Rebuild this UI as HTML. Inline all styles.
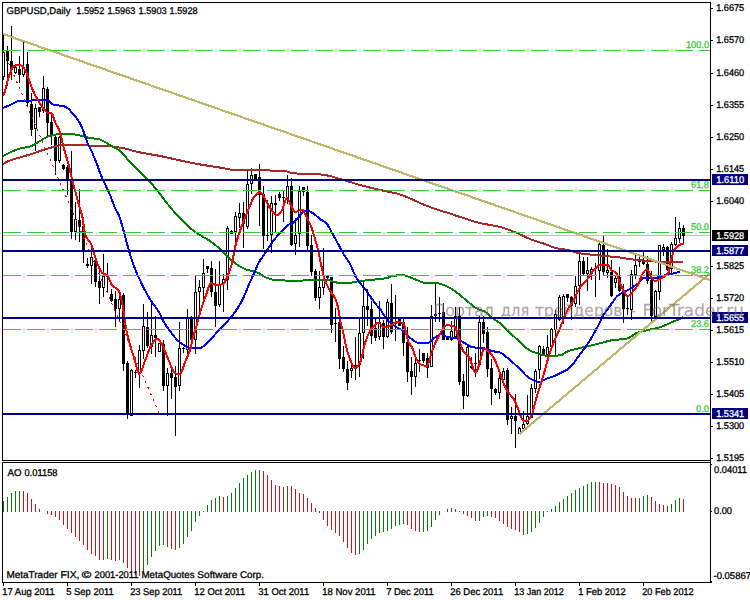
<!DOCTYPE html>
<html lang="en">
<head>
<meta charset="utf-8">
<title>GBPUSD, Daily</title>
<style>
html, body { margin: 0; padding: 0; background: #fff; }
body { width: 750px; height: 600px; overflow: hidden; font-family: "Liberation Sans", "DejaVu Sans", sans-serif; }
svg { display: block; font-family: "Liberation Sans", "DejaVu Sans", sans-serif; }
body { position: relative; }
svg.wm { position: absolute; left: 0; top: 0; opacity: 0.58; will-change: opacity; pointer-events: none; }
svg text { white-space: pre; text-rendering: geometricPrecision; }
</style>
</head>
<body>
<svg width="750" height="600" viewBox="0 0 750 600">
<rect x="0" y="0" width="750" height="600" fill="#fff"/>
<g shape-rendering="crispEdges">
<rect x="3" y="235" width="707" height="1" fill="#c0c0c0"/>
</g>
<g id="candles" shape-rendering="crispEdges">
<rect x="3" y="35" width="1" height="45" fill="#000"/>
<rect x="2" y="52" width="3" height="25" fill="#000"/>
<rect x="3" y="53" width="1" height="23" fill="#fff"/>
<rect x="7" y="46" width="1" height="40" fill="#000"/>
<rect x="6" y="51" width="3" height="10" fill="#000"/>
<rect x="11" y="26" width="1" height="54" fill="#000"/>
<rect x="10" y="61" width="3" height="8" fill="#000"/>
<rect x="15" y="66" width="1" height="8" fill="#000"/>
<rect x="14" y="67" width="3" height="6" fill="#000"/>
<rect x="15" y="68" width="1" height="4" fill="#fff"/>
<rect x="19" y="56" width="1" height="27" fill="#000"/>
<rect x="18" y="69" width="3" height="6" fill="#000"/>
<rect x="23" y="42" width="1" height="35" fill="#000"/>
<rect x="22" y="68" width="3" height="7" fill="#000"/>
<rect x="23" y="69" width="1" height="5" fill="#fff"/>
<rect x="27" y="52" width="1" height="54" fill="#000"/>
<rect x="26" y="64" width="3" height="39" fill="#000"/>
<rect x="31" y="93" width="1" height="43" fill="#000"/>
<rect x="30" y="104" width="3" height="26" fill="#000"/>
<rect x="35" y="104" width="1" height="47" fill="#000"/>
<rect x="34" y="108" width="3" height="21" fill="#000"/>
<rect x="35" y="109" width="1" height="19" fill="#fff"/>
<rect x="39" y="107" width="1" height="10" fill="#000"/>
<rect x="38" y="107" width="3" height="5" fill="#000"/>
<rect x="43" y="76" width="1" height="37" fill="#000"/>
<rect x="42" y="88" width="3" height="23" fill="#000"/>
<rect x="43" y="89" width="1" height="21" fill="#fff"/>
<rect x="47" y="87" width="1" height="49" fill="#000"/>
<rect x="46" y="89" width="3" height="34" fill="#000"/>
<rect x="51" y="115" width="1" height="30" fill="#000"/>
<rect x="50" y="122" width="3" height="14" fill="#000"/>
<rect x="55" y="136" width="1" height="39" fill="#000"/>
<rect x="54" y="137" width="3" height="24" fill="#000"/>
<rect x="59" y="136" width="1" height="27" fill="#000"/>
<rect x="58" y="137" width="3" height="24" fill="#000"/>
<rect x="59" y="138" width="1" height="22" fill="#fff"/>
<rect x="63" y="164" width="1" height="6" fill="#000"/>
<rect x="62" y="165" width="3" height="4" fill="#000"/>
<rect x="67" y="165" width="1" height="30" fill="#000"/>
<rect x="66" y="167" width="3" height="13" fill="#000"/>
<rect x="71" y="151" width="1" height="88" fill="#000"/>
<rect x="70" y="180" width="3" height="52" fill="#000"/>
<rect x="75" y="202" width="1" height="38" fill="#000"/>
<rect x="74" y="219" width="3" height="13" fill="#000"/>
<rect x="75" y="220" width="1" height="11" fill="#fff"/>
<rect x="79" y="189" width="1" height="53" fill="#000"/>
<rect x="78" y="220" width="3" height="7" fill="#000"/>
<rect x="83" y="217" width="1" height="46" fill="#000"/>
<rect x="82" y="226" width="3" height="24" fill="#000"/>
<rect x="87" y="258" width="1" height="10" fill="#000"/>
<rect x="86" y="264" width="3" height="2" fill="#000"/>
<rect x="91" y="248" width="1" height="36" fill="#000"/>
<rect x="90" y="257" width="3" height="9" fill="#000"/>
<rect x="91" y="258" width="1" height="7" fill="#fff"/>
<rect x="95" y="258" width="1" height="29" fill="#000"/>
<rect x="94" y="260" width="3" height="22" fill="#000"/>
<rect x="99" y="271" width="1" height="33" fill="#000"/>
<rect x="98" y="281" width="3" height="7" fill="#000"/>
<rect x="103" y="254" width="1" height="43" fill="#000"/>
<rect x="102" y="276" width="3" height="12" fill="#000"/>
<rect x="103" y="277" width="1" height="10" fill="#fff"/>
<rect x="107" y="263" width="1" height="29" fill="#000"/>
<rect x="106" y="276" width="3" height="1" fill="#000"/>
<rect x="111" y="289" width="1" height="13" fill="#000"/>
<rect x="110" y="294" width="3" height="7" fill="#000"/>
<rect x="115" y="291" width="1" height="36" fill="#000"/>
<rect x="114" y="299" width="3" height="10" fill="#000"/>
<rect x="119" y="294" width="1" height="28" fill="#000"/>
<rect x="118" y="299" width="3" height="10" fill="#000"/>
<rect x="119" y="300" width="1" height="8" fill="#fff"/>
<rect x="123" y="293" width="1" height="78" fill="#000"/>
<rect x="122" y="295" width="3" height="69" fill="#000"/>
<rect x="127" y="361" width="1" height="58" fill="#000"/>
<rect x="126" y="363" width="3" height="52" fill="#000"/>
<rect x="131" y="369" width="1" height="47" fill="#000"/>
<rect x="130" y="370" width="3" height="46" fill="#000"/>
<rect x="131" y="371" width="1" height="44" fill="#fff"/>
<rect x="135" y="370" width="1" height="8" fill="#000"/>
<rect x="134" y="372" width="3" height="1" fill="#000"/>
<rect x="139" y="345" width="1" height="43" fill="#000"/>
<rect x="138" y="350" width="3" height="23" fill="#000"/>
<rect x="139" y="351" width="1" height="21" fill="#fff"/>
<rect x="143" y="304" width="1" height="55" fill="#000"/>
<rect x="142" y="326" width="3" height="25" fill="#000"/>
<rect x="143" y="327" width="1" height="23" fill="#fff"/>
<rect x="147" y="312" width="1" height="36" fill="#000"/>
<rect x="146" y="327" width="3" height="19" fill="#000"/>
<rect x="151" y="303" width="1" height="51" fill="#000"/>
<rect x="150" y="335" width="3" height="12" fill="#000"/>
<rect x="151" y="336" width="1" height="10" fill="#fff"/>
<rect x="155" y="316" width="1" height="41" fill="#000"/>
<rect x="154" y="335" width="3" height="3" fill="#000"/>
<rect x="159" y="343" width="1" height="9" fill="#000"/>
<rect x="158" y="343" width="3" height="9" fill="#000"/>
<rect x="159" y="344" width="1" height="7" fill="#fff"/>
<rect x="163" y="340" width="1" height="51" fill="#000"/>
<rect x="162" y="344" width="3" height="42" fill="#000"/>
<rect x="167" y="368" width="1" height="48" fill="#000"/>
<rect x="166" y="373" width="3" height="13" fill="#000"/>
<rect x="167" y="374" width="1" height="11" fill="#fff"/>
<rect x="171" y="369" width="1" height="30" fill="#000"/>
<rect x="170" y="373" width="3" height="5" fill="#000"/>
<rect x="175" y="366" width="1" height="70" fill="#000"/>
<rect x="174" y="377" width="3" height="10" fill="#000"/>
<rect x="179" y="322" width="1" height="69" fill="#000"/>
<rect x="178" y="348" width="3" height="38" fill="#000"/>
<rect x="179" y="349" width="1" height="36" fill="#fff"/>
<rect x="183" y="347" width="1" height="6" fill="#000"/>
<rect x="182" y="348" width="3" height="1" fill="#000"/>
<rect x="187" y="309" width="1" height="45" fill="#000"/>
<rect x="186" y="318" width="3" height="32" fill="#000"/>
<rect x="187" y="319" width="1" height="30" fill="#fff"/>
<rect x="191" y="316" width="1" height="32" fill="#000"/>
<rect x="190" y="318" width="3" height="22" fill="#000"/>
<rect x="195" y="276" width="1" height="78" fill="#000"/>
<rect x="194" y="292" width="3" height="48" fill="#000"/>
<rect x="195" y="293" width="1" height="46" fill="#fff"/>
<rect x="199" y="280" width="1" height="32" fill="#000"/>
<rect x="198" y="287" width="3" height="5" fill="#000"/>
<rect x="199" y="288" width="1" height="3" fill="#fff"/>
<rect x="203" y="259" width="1" height="40" fill="#000"/>
<rect x="202" y="273" width="3" height="15" fill="#000"/>
<rect x="203" y="274" width="1" height="13" fill="#fff"/>
<rect x="207" y="266" width="1" height="7" fill="#000"/>
<rect x="206" y="266" width="3" height="3" fill="#000"/>
<rect x="211" y="261" width="1" height="36" fill="#000"/>
<rect x="210" y="268" width="3" height="24" fill="#000"/>
<rect x="215" y="269" width="1" height="58" fill="#000"/>
<rect x="214" y="292" width="3" height="14" fill="#000"/>
<rect x="219" y="261" width="1" height="46" fill="#000"/>
<rect x="218" y="285" width="3" height="20" fill="#000"/>
<rect x="219" y="286" width="1" height="18" fill="#fff"/>
<rect x="223" y="274" width="1" height="38" fill="#000"/>
<rect x="222" y="279" width="3" height="5" fill="#000"/>
<rect x="223" y="280" width="1" height="3" fill="#fff"/>
<rect x="227" y="226" width="1" height="64" fill="#000"/>
<rect x="226" y="228" width="3" height="52" fill="#000"/>
<rect x="227" y="229" width="1" height="50" fill="#fff"/>
<rect x="231" y="230" width="1" height="4" fill="#000"/>
<rect x="230" y="231" width="3" height="3" fill="#000"/>
<rect x="235" y="212" width="1" height="32" fill="#000"/>
<rect x="234" y="216" width="3" height="16" fill="#000"/>
<rect x="235" y="217" width="1" height="14" fill="#fff"/>
<rect x="239" y="203" width="1" height="25" fill="#000"/>
<rect x="238" y="213" width="3" height="5" fill="#000"/>
<rect x="239" y="214" width="1" height="3" fill="#fff"/>
<rect x="243" y="202" width="1" height="46" fill="#000"/>
<rect x="242" y="213" width="3" height="11" fill="#000"/>
<rect x="247" y="171" width="1" height="58" fill="#000"/>
<rect x="246" y="184" width="3" height="43" fill="#000"/>
<rect x="247" y="185" width="1" height="41" fill="#fff"/>
<rect x="251" y="168" width="1" height="26" fill="#000"/>
<rect x="250" y="175" width="3" height="9" fill="#000"/>
<rect x="251" y="176" width="1" height="7" fill="#fff"/>
<rect x="255" y="174" width="1" height="6" fill="#000"/>
<rect x="254" y="174" width="3" height="6" fill="#000"/>
<rect x="259" y="164" width="1" height="62" fill="#000"/>
<rect x="258" y="177" width="3" height="18" fill="#000"/>
<rect x="263" y="186" width="1" height="63" fill="#000"/>
<rect x="262" y="194" width="3" height="42" fill="#000"/>
<rect x="267" y="200" width="1" height="41" fill="#000"/>
<rect x="266" y="235" width="3" height="1" fill="#000"/>
<rect x="271" y="196" width="1" height="57" fill="#000"/>
<rect x="270" y="203" width="3" height="32" fill="#000"/>
<rect x="271" y="204" width="1" height="30" fill="#fff"/>
<rect x="275" y="195" width="1" height="38" fill="#000"/>
<rect x="274" y="203" width="3" height="2" fill="#000"/>
<rect x="279" y="192" width="1" height="9" fill="#000"/>
<rect x="278" y="194" width="3" height="4" fill="#000"/>
<rect x="283" y="191" width="1" height="31" fill="#000"/>
<rect x="282" y="197" width="3" height="1" fill="#000"/>
<rect x="287" y="175" width="1" height="29" fill="#000"/>
<rect x="286" y="186" width="3" height="12" fill="#000"/>
<rect x="287" y="187" width="1" height="10" fill="#fff"/>
<rect x="291" y="178" width="1" height="68" fill="#000"/>
<rect x="290" y="186" width="3" height="59" fill="#000"/>
<rect x="295" y="218" width="1" height="37" fill="#000"/>
<rect x="294" y="235" width="3" height="9" fill="#000"/>
<rect x="295" y="236" width="1" height="7" fill="#fff"/>
<rect x="299" y="186" width="1" height="61" fill="#000"/>
<rect x="298" y="191" width="3" height="43" fill="#000"/>
<rect x="299" y="192" width="1" height="41" fill="#fff"/>
<rect x="303" y="187" width="1" height="9" fill="#000"/>
<rect x="302" y="187" width="3" height="5" fill="#000"/>
<rect x="307" y="186" width="1" height="64" fill="#000"/>
<rect x="306" y="192" width="3" height="54" fill="#000"/>
<rect x="311" y="235" width="1" height="41" fill="#000"/>
<rect x="310" y="245" width="3" height="27" fill="#000"/>
<rect x="315" y="269" width="1" height="32" fill="#000"/>
<rect x="314" y="271" width="3" height="27" fill="#000"/>
<rect x="319" y="271" width="1" height="38" fill="#000"/>
<rect x="318" y="287" width="3" height="11" fill="#000"/>
<rect x="319" y="288" width="1" height="9" fill="#fff"/>
<rect x="323" y="248" width="1" height="47" fill="#000"/>
<rect x="322" y="279" width="3" height="9" fill="#000"/>
<rect x="323" y="280" width="1" height="7" fill="#fff"/>
<rect x="327" y="276" width="1" height="5" fill="#000"/>
<rect x="326" y="276" width="3" height="2" fill="#000"/>
<rect x="331" y="277" width="1" height="56" fill="#000"/>
<rect x="330" y="277" width="3" height="48" fill="#000"/>
<rect x="335" y="308" width="1" height="34" fill="#000"/>
<rect x="334" y="323" width="3" height="1" fill="#000"/>
<rect x="339" y="318" width="1" height="51" fill="#000"/>
<rect x="338" y="322" width="3" height="37" fill="#000"/>
<rect x="343" y="346" width="1" height="26" fill="#000"/>
<rect x="342" y="357" width="3" height="12" fill="#000"/>
<rect x="347" y="361" width="1" height="29" fill="#000"/>
<rect x="346" y="369" width="3" height="14" fill="#000"/>
<rect x="351" y="365" width="1" height="13" fill="#000"/>
<rect x="350" y="368" width="3" height="3" fill="#000"/>
<rect x="351" y="369" width="1" height="1" fill="#fff"/>
<rect x="355" y="337" width="1" height="43" fill="#000"/>
<rect x="354" y="365" width="3" height="1" fill="#000"/>
<rect x="359" y="319" width="1" height="58" fill="#000"/>
<rect x="358" y="333" width="3" height="32" fill="#000"/>
<rect x="359" y="334" width="1" height="30" fill="#fff"/>
<rect x="363" y="282" width="1" height="77" fill="#000"/>
<rect x="362" y="306" width="3" height="27" fill="#000"/>
<rect x="363" y="307" width="1" height="25" fill="#fff"/>
<rect x="367" y="289" width="1" height="37" fill="#000"/>
<rect x="366" y="306" width="3" height="4" fill="#000"/>
<rect x="371" y="301" width="1" height="43" fill="#000"/>
<rect x="370" y="309" width="3" height="27" fill="#000"/>
<rect x="375" y="318" width="1" height="23" fill="#000"/>
<rect x="374" y="328" width="3" height="10" fill="#000"/>
<rect x="379" y="301" width="1" height="39" fill="#000"/>
<rect x="378" y="322" width="3" height="15" fill="#000"/>
<rect x="379" y="323" width="1" height="13" fill="#fff"/>
<rect x="383" y="320" width="1" height="29" fill="#000"/>
<rect x="382" y="323" width="3" height="14" fill="#000"/>
<rect x="387" y="299" width="1" height="39" fill="#000"/>
<rect x="386" y="302" width="3" height="35" fill="#000"/>
<rect x="387" y="303" width="1" height="33" fill="#fff"/>
<rect x="391" y="284" width="1" height="50" fill="#000"/>
<rect x="390" y="303" width="3" height="29" fill="#000"/>
<rect x="395" y="295" width="1" height="46" fill="#000"/>
<rect x="394" y="323" width="3" height="1" fill="#000"/>
<rect x="399" y="319" width="1" height="7" fill="#000"/>
<rect x="398" y="319" width="3" height="7" fill="#000"/>
<rect x="403" y="319" width="1" height="37" fill="#000"/>
<rect x="402" y="322" width="3" height="21" fill="#000"/>
<rect x="407" y="327" width="1" height="55" fill="#000"/>
<rect x="406" y="342" width="3" height="30" fill="#000"/>
<rect x="411" y="357" width="1" height="38" fill="#000"/>
<rect x="410" y="371" width="3" height="6" fill="#000"/>
<rect x="415" y="358" width="1" height="29" fill="#000"/>
<rect x="414" y="363" width="3" height="14" fill="#000"/>
<rect x="415" y="364" width="1" height="12" fill="#fff"/>
<rect x="419" y="349" width="1" height="23" fill="#000"/>
<rect x="418" y="360" width="3" height="1" fill="#000"/>
<rect x="423" y="353" width="1" height="10" fill="#000"/>
<rect x="422" y="353" width="3" height="8" fill="#000"/>
<rect x="427" y="353" width="1" height="25" fill="#000"/>
<rect x="426" y="358" width="3" height="10" fill="#000"/>
<rect x="431" y="305" width="1" height="62" fill="#000"/>
<rect x="430" y="316" width="3" height="51" fill="#000"/>
<rect x="431" y="317" width="1" height="49" fill="#fff"/>
<rect x="435" y="284" width="1" height="38" fill="#000"/>
<rect x="434" y="314" width="3" height="2" fill="#000"/>
<rect x="439" y="297" width="1" height="25" fill="#000"/>
<rect x="438" y="313" width="3" height="1" fill="#000"/>
<rect x="443" y="303" width="1" height="37" fill="#000"/>
<rect x="442" y="312" width="3" height="28" fill="#000"/>
<rect x="447" y="337" width="1" height="3" fill="#000"/>
<rect x="446" y="337" width="3" height="3" fill="#000"/>
<rect x="451" y="321" width="1" height="20" fill="#000"/>
<rect x="450" y="331" width="3" height="9" fill="#000"/>
<rect x="451" y="332" width="1" height="7" fill="#fff"/>
<rect x="455" y="307" width="1" height="30" fill="#000"/>
<rect x="454" y="316" width="3" height="21" fill="#000"/>
<rect x="455" y="317" width="1" height="19" fill="#fff"/>
<rect x="459" y="307" width="1" height="78" fill="#000"/>
<rect x="458" y="316" width="3" height="66" fill="#000"/>
<rect x="463" y="374" width="1" height="35" fill="#000"/>
<rect x="462" y="381" width="3" height="15" fill="#000"/>
<rect x="467" y="346" width="1" height="51" fill="#000"/>
<rect x="466" y="347" width="3" height="49" fill="#000"/>
<rect x="467" y="348" width="1" height="47" fill="#fff"/>
<rect x="471" y="357" width="1" height="12" fill="#000"/>
<rect x="470" y="366" width="3" height="2" fill="#000"/>
<rect x="475" y="353" width="1" height="24" fill="#000"/>
<rect x="474" y="363" width="3" height="1" fill="#000"/>
<rect x="479" y="316" width="1" height="50" fill="#000"/>
<rect x="478" y="322" width="3" height="43" fill="#000"/>
<rect x="479" y="323" width="1" height="41" fill="#fff"/>
<rect x="483" y="316" width="1" height="27" fill="#000"/>
<rect x="482" y="322" width="3" height="12" fill="#000"/>
<rect x="487" y="327" width="1" height="50" fill="#000"/>
<rect x="486" y="332" width="3" height="37" fill="#000"/>
<rect x="491" y="359" width="1" height="46" fill="#000"/>
<rect x="490" y="368" width="3" height="21" fill="#000"/>
<rect x="495" y="388" width="1" height="7" fill="#000"/>
<rect x="494" y="389" width="3" height="4" fill="#000"/>
<rect x="499" y="375" width="1" height="24" fill="#000"/>
<rect x="498" y="378" width="3" height="15" fill="#000"/>
<rect x="499" y="379" width="1" height="13" fill="#fff"/>
<rect x="503" y="368" width="1" height="16" fill="#000"/>
<rect x="502" y="371" width="3" height="9" fill="#000"/>
<rect x="503" y="372" width="1" height="7" fill="#fff"/>
<rect x="507" y="368" width="1" height="57" fill="#000"/>
<rect x="506" y="370" width="3" height="50" fill="#000"/>
<rect x="511" y="407" width="1" height="27" fill="#000"/>
<rect x="510" y="416" width="3" height="3" fill="#000"/>
<rect x="511" y="417" width="1" height="1" fill="#fff"/>
<rect x="515" y="394" width="1" height="54" fill="#000"/>
<rect x="514" y="416" width="3" height="5" fill="#000"/>
<rect x="519" y="427" width="1" height="7" fill="#000"/>
<rect x="518" y="428" width="3" height="6" fill="#000"/>
<rect x="519" y="429" width="1" height="4" fill="#fff"/>
<rect x="523" y="411" width="1" height="19" fill="#000"/>
<rect x="522" y="424" width="3" height="5" fill="#000"/>
<rect x="523" y="425" width="1" height="3" fill="#fff"/>
<rect x="527" y="395" width="1" height="30" fill="#000"/>
<rect x="526" y="416" width="3" height="8" fill="#000"/>
<rect x="527" y="417" width="1" height="6" fill="#fff"/>
<rect x="531" y="384" width="1" height="34" fill="#000"/>
<rect x="530" y="388" width="3" height="30" fill="#000"/>
<rect x="531" y="389" width="1" height="28" fill="#fff"/>
<rect x="535" y="369" width="1" height="24" fill="#000"/>
<rect x="534" y="371" width="3" height="18" fill="#000"/>
<rect x="535" y="372" width="1" height="16" fill="#fff"/>
<rect x="539" y="345" width="1" height="34" fill="#000"/>
<rect x="538" y="346" width="3" height="24" fill="#000"/>
<rect x="539" y="347" width="1" height="22" fill="#fff"/>
<rect x="543" y="346" width="1" height="8" fill="#000"/>
<rect x="542" y="349" width="3" height="5" fill="#000"/>
<rect x="547" y="335" width="1" height="20" fill="#000"/>
<rect x="546" y="347" width="3" height="8" fill="#000"/>
<rect x="547" y="348" width="1" height="6" fill="#fff"/>
<rect x="551" y="328" width="1" height="19" fill="#000"/>
<rect x="550" y="329" width="3" height="18" fill="#000"/>
<rect x="551" y="330" width="1" height="16" fill="#fff"/>
<rect x="555" y="310" width="1" height="45" fill="#000"/>
<rect x="554" y="314" width="3" height="16" fill="#000"/>
<rect x="555" y="315" width="1" height="14" fill="#fff"/>
<rect x="559" y="295" width="1" height="26" fill="#000"/>
<rect x="558" y="297" width="3" height="23" fill="#000"/>
<rect x="559" y="298" width="1" height="21" fill="#fff"/>
<rect x="563" y="294" width="1" height="30" fill="#000"/>
<rect x="562" y="296" width="3" height="22" fill="#000"/>
<rect x="563" y="297" width="1" height="20" fill="#fff"/>
<rect x="567" y="294" width="1" height="8" fill="#000"/>
<rect x="566" y="294" width="3" height="4" fill="#000"/>
<rect x="571" y="296" width="1" height="24" fill="#000"/>
<rect x="570" y="297" width="3" height="9" fill="#000"/>
<rect x="575" y="276" width="1" height="31" fill="#000"/>
<rect x="574" y="286" width="3" height="18" fill="#000"/>
<rect x="575" y="287" width="1" height="16" fill="#fff"/>
<rect x="579" y="253" width="1" height="52" fill="#000"/>
<rect x="578" y="261" width="3" height="25" fill="#000"/>
<rect x="579" y="262" width="1" height="23" fill="#fff"/>
<rect x="583" y="257" width="1" height="19" fill="#000"/>
<rect x="582" y="261" width="3" height="13" fill="#000"/>
<rect x="587" y="257" width="1" height="34" fill="#000"/>
<rect x="586" y="270" width="3" height="4" fill="#000"/>
<rect x="587" y="271" width="1" height="2" fill="#fff"/>
<rect x="591" y="267" width="1" height="13" fill="#000"/>
<rect x="590" y="269" width="3" height="4" fill="#000"/>
<rect x="591" y="270" width="1" height="2" fill="#fff"/>
<rect x="595" y="263" width="1" height="34" fill="#000"/>
<rect x="594" y="268" width="3" height="1" fill="#000"/>
<rect x="599" y="243" width="1" height="37" fill="#000"/>
<rect x="598" y="244" width="3" height="27" fill="#000"/>
<rect x="599" y="245" width="1" height="25" fill="#fff"/>
<rect x="603" y="236" width="1" height="40" fill="#000"/>
<rect x="602" y="245" width="3" height="27" fill="#000"/>
<rect x="607" y="249" width="1" height="29" fill="#000"/>
<rect x="606" y="270" width="3" height="3" fill="#000"/>
<rect x="607" y="271" width="1" height="1" fill="#fff"/>
<rect x="611" y="260" width="1" height="37" fill="#000"/>
<rect x="610" y="272" width="3" height="24" fill="#000"/>
<rect x="615" y="276" width="1" height="12" fill="#000"/>
<rect x="614" y="278" width="3" height="5" fill="#000"/>
<rect x="615" y="279" width="1" height="3" fill="#fff"/>
<rect x="619" y="267" width="1" height="25" fill="#000"/>
<rect x="618" y="277" width="3" height="14" fill="#000"/>
<rect x="623" y="284" width="1" height="39" fill="#000"/>
<rect x="622" y="291" width="3" height="18" fill="#000"/>
<rect x="627" y="297" width="1" height="18" fill="#000"/>
<rect x="626" y="308" width="3" height="1" fill="#000"/>
<rect x="631" y="270" width="1" height="50" fill="#000"/>
<rect x="630" y="274" width="3" height="36" fill="#000"/>
<rect x="631" y="275" width="1" height="34" fill="#fff"/>
<rect x="635" y="255" width="1" height="24" fill="#000"/>
<rect x="634" y="265" width="3" height="10" fill="#000"/>
<rect x="635" y="266" width="1" height="8" fill="#fff"/>
<rect x="639" y="254" width="1" height="13" fill="#000"/>
<rect x="638" y="259" width="3" height="3" fill="#000"/>
<rect x="643" y="252" width="1" height="13" fill="#000"/>
<rect x="642" y="260" width="3" height="4" fill="#000"/>
<rect x="647" y="256" width="1" height="28" fill="#000"/>
<rect x="646" y="264" width="3" height="17" fill="#000"/>
<rect x="651" y="271" width="1" height="51" fill="#000"/>
<rect x="650" y="280" width="3" height="36" fill="#000"/>
<rect x="655" y="290" width="1" height="31" fill="#000"/>
<rect x="654" y="291" width="3" height="26" fill="#000"/>
<rect x="655" y="292" width="1" height="24" fill="#fff"/>
<rect x="659" y="245" width="1" height="55" fill="#000"/>
<rect x="658" y="245" width="3" height="47" fill="#000"/>
<rect x="659" y="246" width="1" height="45" fill="#fff"/>
<rect x="663" y="244" width="1" height="12" fill="#000"/>
<rect x="662" y="247" width="3" height="3" fill="#000"/>
<rect x="663" y="248" width="1" height="1" fill="#fff"/>
<rect x="667" y="246" width="1" height="25" fill="#000"/>
<rect x="666" y="247" width="3" height="23" fill="#000"/>
<rect x="671" y="242" width="1" height="31" fill="#000"/>
<rect x="670" y="244" width="3" height="25" fill="#000"/>
<rect x="671" y="245" width="1" height="23" fill="#fff"/>
<rect x="675" y="217" width="1" height="29" fill="#000"/>
<rect x="674" y="238" width="3" height="7" fill="#000"/>
<rect x="675" y="239" width="1" height="5" fill="#fff"/>
<rect x="679" y="222" width="1" height="21" fill="#000"/>
<rect x="678" y="228" width="3" height="11" fill="#000"/>
<rect x="679" y="229" width="1" height="9" fill="#fff"/>
<rect x="683" y="225" width="1" height="18" fill="#000"/>
<rect x="682" y="228" width="3" height="8" fill="#000"/>
</g>
<g id="mas" shape-rendering="crispEdges">
<polyline points="3.0,164.0 4.0,163.4 5.0,162.9 6.0,162.3 7.0,161.8 8.0,161.3 9.0,160.9 10.0,160.5 11.0,160.1 12.0,159.8 13.0,159.5 14.0,159.2 15.0,158.9 16.0,158.6 17.0,158.3 18.0,158.1 19.0,157.8 20.0,157.5 21.0,157.2 22.0,156.9 23.0,156.6 24.0,156.3 25.0,156.0 26.0,155.7 27.0,155.4 28.0,155.1 29.0,154.8 30.0,154.5 31.0,154.2 32.0,153.8 33.0,153.5 34.0,153.1 35.0,152.8 36.0,152.4 37.0,152.0 38.0,151.7 39.0,151.3 40.0,151.0 41.0,150.7 42.0,150.4 43.0,150.0 44.0,149.7 45.0,149.4 46.0,149.1 47.0,148.8 48.0,148.5 49.0,148.3 50.0,148.0 51.0,147.7 52.0,147.4 53.0,147.1 54.0,146.8 55.0,146.5 56.0,146.2 57.0,146.0 58.0,145.7 59.0,145.5 60.0,145.4 61.0,145.3 62.0,145.2 63.0,145.2 64.0,145.1 65.0,145.1 66.0,145.1 67.0,145.1 68.0,145.1 69.0,145.0 70.0,145.0 71.0,145.0 72.0,145.0 73.0,145.0 74.0,145.0 75.0,145.0 76.0,145.0 77.0,145.0 78.0,145.0 79.0,145.1 80.0,145.1 81.0,145.2 82.0,145.2 83.0,145.2 84.0,145.3 85.0,145.3 86.0,145.4 87.0,145.4 88.0,145.5 89.0,145.5 90.0,145.5 91.0,145.5 92.0,145.5 93.0,145.5 94.0,145.5 95.0,145.5 96.0,145.6 97.0,145.6 98.0,145.6 99.0,145.6 100.0,145.6 101.0,145.6 102.0,145.7 103.0,145.7 104.0,145.8 105.0,145.8 106.0,145.9 107.0,146.0 108.0,146.1 109.0,146.2 110.0,146.3 111.0,146.4 112.0,146.5 113.0,146.6 114.0,146.8 115.0,146.9 116.0,147.0 117.0,147.2 118.0,147.3 119.0,147.5 120.0,147.6 121.0,147.8 122.0,147.9 123.0,148.1 124.0,148.3 125.0,148.6 126.0,148.8 127.0,149.0 128.0,149.3 129.0,149.6 130.0,149.8 131.0,150.1 132.0,150.4 133.0,150.7 134.0,150.9 135.0,151.2 136.0,151.5 137.0,151.7 138.0,152.0 139.0,152.2 140.0,152.4 141.0,152.6 142.0,152.8 143.0,153.0 144.0,153.2 145.0,153.4 146.0,153.5 147.0,153.7 148.0,153.9 149.0,154.0 150.0,154.2 151.0,154.4 152.0,154.6 153.0,154.7 154.0,154.9 155.0,155.1 156.0,155.3 157.0,155.4 158.0,155.6 159.0,155.8 160.0,156.0 161.0,156.2 162.0,156.4 163.0,156.6 164.0,156.8 165.0,157.0 166.0,157.3 167.0,157.5 168.0,157.7 169.0,157.9 170.0,158.2 171.0,158.4 172.0,158.6 173.0,158.9 174.0,159.1 175.0,159.3 176.0,159.5 177.0,159.8 178.0,160.0 179.0,160.2 180.0,160.4 181.0,160.6 182.0,160.8 183.0,161.0 184.0,161.2 185.0,161.4 186.0,161.7 187.0,161.9 188.0,162.1 189.0,162.3 190.0,162.5 191.0,162.7 192.0,162.9 193.0,163.1 194.0,163.3 195.0,163.5 196.0,163.7 197.0,163.9 198.0,164.0 199.0,164.2 200.0,164.4 201.0,164.6 202.0,164.7 203.0,164.9 204.0,165.1 205.0,165.3 206.0,165.4 207.0,165.6 208.0,165.7 209.0,165.9 210.0,166.1 211.0,166.2 212.0,166.4 213.0,166.5 214.0,166.7 215.0,166.8 216.0,167.0 217.0,167.1 218.0,167.3 219.0,167.4 220.0,167.6 221.0,167.8 222.0,167.9 223.0,168.1 224.0,168.3 225.0,168.5 226.0,168.7 227.0,168.9 228.0,169.1 229.0,169.3 230.0,169.5 231.0,169.6 232.0,169.7 233.0,169.8 234.0,169.9 235.0,170.0 236.0,170.0 237.0,170.0 238.0,170.0 239.0,170.0 240.0,170.0 241.0,170.0 242.0,170.0 243.0,170.0 244.0,170.0 245.0,170.0 246.0,170.0 247.0,170.0 248.0,170.0 249.0,170.0 250.0,170.0 251.0,170.0 252.0,170.0 253.0,170.0 254.0,170.0 255.0,170.0 256.0,170.0 257.0,170.0 258.0,170.0 259.0,170.0 260.0,170.0 261.0,170.0 262.0,170.0 263.0,170.0 264.0,170.0 265.0,170.1 266.0,170.1 267.0,170.2 268.0,170.3 269.0,170.4 270.0,170.5 271.0,170.6 272.0,170.8 273.0,170.8 274.0,170.9 275.0,171.0 276.0,171.1 277.0,171.1 278.0,171.1 279.0,171.2 280.0,171.2 281.0,171.2 282.0,171.2 283.0,171.3 284.0,171.3 285.0,171.4 286.0,171.4 287.0,171.5 288.0,171.7 289.0,172.0 290.0,172.4 291.0,172.8 292.0,173.0 293.0,173.1 294.0,173.2 295.0,173.3 296.0,173.4 297.0,173.5 298.0,173.5 299.0,173.6 300.0,173.6 301.0,173.7 302.0,173.7 303.0,173.8 304.0,173.8 305.0,173.9 306.0,173.9 307.0,174.0 308.0,174.0 309.0,174.0 310.0,174.1 311.0,174.1 312.0,174.1 313.0,174.2 314.0,174.2 315.0,174.2 316.0,174.2 317.0,174.3 318.0,174.3 319.0,174.3 320.0,174.4 321.0,174.5 322.0,174.6 323.0,174.7 324.0,174.8 325.0,175.0 326.0,175.2 327.0,175.4 328.0,175.6 329.0,175.8 330.0,176.0 331.0,176.2 332.0,176.5 333.0,176.8 334.0,177.1 335.0,177.4 336.0,177.7 337.0,178.0 338.0,178.4 339.0,178.7 340.0,179.0 341.0,179.3 342.0,179.6 343.0,179.9 344.0,180.2 345.0,180.5 346.0,180.8 347.0,181.1 348.0,181.4 349.0,181.7 350.0,182.0 351.0,182.3 352.0,182.6 353.0,182.9 354.0,183.2 355.0,183.5 356.0,183.8 357.0,184.1 358.0,184.4 359.0,184.7 360.0,185.0 361.0,185.3 362.0,185.5 363.0,185.8 364.0,186.1 365.0,186.3 366.0,186.6 367.0,186.8 368.0,187.1 369.0,187.4 370.0,187.6 371.0,187.8 372.0,188.1 373.0,188.3 374.0,188.6 375.0,188.8 376.0,189.1 377.0,189.3 378.0,189.6 379.0,189.8 380.0,190.0 381.0,190.2 382.0,190.4 383.0,190.6 384.0,190.8 385.0,191.0 386.0,191.2 387.0,191.4 388.0,191.6 389.0,191.8 390.0,192.0 391.0,192.2 392.0,192.4 393.0,192.7 394.0,192.9 395.0,193.1 396.0,193.3 397.0,193.6 398.0,193.8 399.0,194.1 400.0,194.4 401.0,194.7 402.0,195.1 403.0,195.4 404.0,195.8 405.0,196.2 406.0,196.7 407.0,197.1 408.0,197.5 409.0,198.0 410.0,198.4 411.0,198.8 412.0,199.3 413.0,199.8 414.0,200.2 415.0,200.7 416.0,201.2 417.0,201.6 418.0,202.1 419.0,202.6 420.0,203.0 421.0,203.4 422.0,203.8 423.0,204.3 424.0,204.7 425.0,205.1 426.0,205.5 427.0,205.9 428.0,206.3 429.0,206.6 430.0,207.0 431.0,207.4 432.0,207.7 433.0,208.1 434.0,208.4 435.0,208.7 436.0,209.1 437.0,209.4 438.0,209.7 439.0,210.1 440.0,210.4 441.0,210.7 442.0,211.0 443.0,211.4 444.0,211.7 445.0,212.0 446.0,212.3 447.0,212.6 448.0,213.0 449.0,213.3 450.0,213.6 451.0,213.9 452.0,214.3 453.0,214.6 454.0,215.0 455.0,215.3 456.0,215.7 457.0,216.0 458.0,216.3 459.0,216.7 460.0,217.0 461.0,217.3 462.0,217.6 463.0,218.0 464.0,218.3 465.0,218.6 466.0,218.9 467.0,219.3 468.0,219.6 469.0,219.9 470.0,220.2 471.0,220.5 472.0,220.8 473.0,221.1 474.0,221.4 475.0,221.7 476.0,222.0 477.0,222.2 478.0,222.5 479.0,222.8 480.0,223.0 481.0,223.2 482.0,223.5 483.0,223.7 484.0,223.9 485.0,224.1 486.0,224.2 487.0,224.4 488.0,224.6 489.0,224.8 490.0,225.0 491.0,225.1 492.0,225.3 493.0,225.5 494.0,225.7 495.0,225.9 496.0,226.1 497.0,226.3 498.0,226.5 499.0,226.8 500.0,227.0 501.0,227.3 502.0,227.5 503.0,227.8 504.0,228.2 505.0,228.5 506.0,228.8 507.0,229.2 508.0,229.5 509.0,229.9 510.0,230.3 511.0,230.6 512.0,231.0 513.0,231.4 514.0,231.8 515.0,232.2 516.0,232.6 517.0,233.1 518.0,233.5 519.0,234.0 520.0,234.4 521.0,234.9 522.0,235.3 523.0,235.8 524.0,236.3 525.0,236.8 526.0,237.2 527.0,237.7 528.0,238.2 529.0,238.6 530.0,239.0 531.0,239.4 532.0,239.7 533.0,240.1 534.0,240.4 535.0,240.8 536.0,241.1 537.0,241.4 538.0,241.8 539.0,242.1 540.0,242.4 541.0,242.7 542.0,243.0 543.0,243.3 544.0,243.7 545.0,244.0 546.0,244.4 547.0,244.7 548.0,245.2 549.0,245.6 550.0,246.0 551.0,246.4 552.0,246.8 553.0,247.2 554.0,247.5 555.0,247.8 556.0,248.1 557.0,248.3 558.0,248.5 559.0,248.6 560.0,248.8 561.0,248.9 562.0,249.1 563.0,249.2 564.0,249.4 565.0,249.5 566.0,249.7 567.0,249.9 568.0,250.1 569.0,250.3 570.0,250.6 571.0,250.9 572.0,251.2 573.0,251.5 574.0,251.8 575.0,252.1 576.0,252.4 577.0,252.7 578.0,253.0 579.0,253.2 580.0,253.3 581.0,253.5 582.0,253.6 583.0,253.8 584.0,253.9 585.0,254.0 586.0,254.1 587.0,254.2 588.0,254.3 589.0,254.4 590.0,254.5 591.0,254.6 592.0,254.7 593.0,254.8 594.0,254.9 595.0,255.0 596.0,255.1 597.0,255.2 598.0,255.3 599.0,255.4 600.0,255.5 601.0,255.6 602.0,255.7 603.0,255.8 604.0,255.9 605.0,256.0 606.0,256.1 607.0,256.2 608.0,256.3 609.0,256.4 610.0,256.5 611.0,256.6 612.0,256.6 613.0,256.7 614.0,256.8 615.0,256.9 616.0,257.0 617.0,257.2 618.0,257.3 619.0,257.4 620.0,257.5 621.0,257.7 622.0,257.8 623.0,258.0 624.0,258.1 625.0,258.3 626.0,258.5 627.0,258.6 628.0,258.8 629.0,258.9 630.0,259.1 631.0,259.2 632.0,259.3 633.0,259.5 634.0,259.6 635.0,259.7 636.0,259.8 637.0,259.9 638.0,260.0 639.0,260.1 640.0,260.2 641.0,260.3 642.0,260.4 643.0,260.5 644.0,260.6 645.0,260.7 646.0,260.8 647.0,260.9 648.0,261.0 649.0,261.0 650.0,261.1 651.0,261.2 652.0,261.3 653.0,261.3 654.0,261.4 655.0,261.5 656.0,261.5 657.0,261.6 658.0,261.6 659.0,261.7 660.0,261.7 661.0,261.7 662.0,261.7 663.0,261.8 664.0,261.8 665.0,261.8 666.0,261.8 667.0,261.8 668.0,261.9 669.0,261.9 670.0,261.9 671.0,261.9 672.0,261.9 673.0,261.9 674.0,261.9 675.0,262.0 676.0,262.0 677.0,262.0 678.0,262.0 679.0,262.0 680.0,262.0 681.0,262.0 682.0,262.0 683.0,262.0" fill="none" stroke="#a52a2a" stroke-width="2.0" stroke-linejoin="round" stroke-linecap="butt"/>
<polyline points="3.0,156.0 4.0,155.5 5.0,154.9 6.0,154.4 7.0,153.9 8.0,153.4 9.0,153.0 10.0,152.5 11.0,152.0 12.0,151.6 13.0,151.1 14.0,150.7 15.0,150.3 16.0,149.9 17.0,149.5 18.0,149.1 19.0,148.8 20.0,148.5 21.0,148.3 22.0,148.0 23.0,147.9 24.0,147.7 25.0,147.5 26.0,147.4 27.0,147.2 28.0,147.0 29.0,146.8 30.0,146.5 31.0,146.2 32.0,145.7 33.0,145.2 34.0,144.7 35.0,144.1 36.0,143.5 37.0,142.8 38.0,142.2 39.0,141.6 40.0,141.0 41.0,140.4 42.0,139.8 43.0,139.2 44.0,138.5 45.0,137.9 46.0,137.4 47.0,136.9 48.0,136.5 49.0,136.2 50.0,135.8 51.0,135.5 52.0,135.2 53.0,135.0 54.0,134.8 55.0,134.6 56.0,134.5 57.0,134.4 58.0,134.3 59.0,134.3 60.0,134.2 61.0,134.1 62.0,134.1 63.0,134.0 64.0,134.0 65.0,134.0 66.0,134.0 67.0,134.0 68.0,134.0 69.0,134.1 70.0,134.1 71.0,134.2 72.0,134.3 73.0,134.3 74.0,134.4 75.0,134.5 76.0,134.6 77.0,134.8 78.0,135.0 79.0,135.3 80.0,135.5 81.0,135.7 82.0,136.0 83.0,136.3 84.0,136.5 85.0,136.8 86.0,137.1 87.0,137.4 88.0,137.6 89.0,137.8 90.0,138.0 91.0,138.1 92.0,138.3 93.0,138.4 94.0,138.5 95.0,138.6 96.0,138.7 97.0,138.8 98.0,139.0 99.0,139.3 100.0,139.6 101.0,140.0 102.0,140.4 103.0,140.9 104.0,141.5 105.0,142.0 106.0,142.6 107.0,143.2 108.0,143.8 109.0,144.4 110.0,145.0 111.0,145.6 112.0,146.1 113.0,146.6 114.0,147.2 115.0,147.7 116.0,148.3 117.0,148.9 118.0,149.6 119.0,150.3 120.0,151.0 121.0,151.8 122.0,152.8 123.0,153.9 124.0,155.0 125.0,156.2 126.0,157.4 127.0,158.6 128.0,159.8 129.0,160.9 130.0,162.0 131.0,163.0 132.0,164.1 133.0,165.1 134.0,166.1 135.0,167.1 136.0,168.0 137.0,169.0 138.0,170.0 139.0,171.0 140.0,172.0 141.0,173.0 142.0,174.0 143.0,174.9 144.0,175.9 145.0,176.9 146.0,177.9 147.0,178.9 148.0,179.9 149.0,180.9 150.0,182.0 151.0,183.1 152.0,184.2 153.0,185.4 154.0,186.6 155.0,187.8 156.0,189.0 157.0,190.3 158.0,191.5 159.0,192.8 160.0,194.0 161.0,195.3 162.0,196.6 163.0,197.9 164.0,199.2 165.0,200.6 166.0,201.9 167.0,203.2 168.0,204.5 169.0,205.8 170.0,207.0 171.0,208.2 172.0,209.3 173.0,210.5 174.0,211.6 175.0,212.7 176.0,213.8 177.0,214.8 178.0,215.9 179.0,217.0 180.0,218.0 181.0,219.1 182.0,220.1 183.0,221.2 184.0,222.2 185.0,223.3 186.0,224.3 187.0,225.3 188.0,226.2 189.0,227.1 190.0,228.0 191.0,228.8 192.0,229.6 193.0,230.3 194.0,231.0 195.0,231.7 196.0,232.4 197.0,233.1 198.0,233.7 199.0,234.4 200.0,235.0 201.0,235.6 202.0,236.2 203.0,236.8 204.0,237.4 205.0,238.0 206.0,238.5 207.0,239.1 208.0,239.7 209.0,240.3 210.0,241.0 211.0,241.7 212.0,242.4 213.0,243.2 214.0,244.0 215.0,244.8 216.0,245.6 217.0,246.4 218.0,247.3 219.0,248.1 220.0,249.0 221.0,249.9 222.0,250.8 223.0,251.8 224.0,252.8 225.0,253.8 226.0,254.8 227.0,255.9 228.0,256.9 229.0,257.9 230.0,258.8 231.0,259.8 232.0,260.6 233.0,261.5 234.0,262.2 235.0,263.0 236.0,263.7 237.0,264.4 238.0,265.1 239.0,265.7 240.0,266.4 241.0,267.0 242.0,267.5 243.0,268.1 244.0,268.6 245.0,269.0 246.0,269.4 247.0,269.8 248.0,270.1 249.0,270.3 250.0,270.6 251.0,270.8 252.0,271.1 253.0,271.3 254.0,271.5 255.0,271.8 256.0,272.1 257.0,272.4 258.0,272.8 259.0,273.3 260.0,273.9 261.0,274.5 262.0,275.2 263.0,275.9 264.0,276.5 265.0,277.0 266.0,277.4 267.0,277.8 268.0,278.2 269.0,278.6 270.0,278.9 271.0,279.2 272.0,279.5 273.0,279.7 274.0,279.9 275.0,280.0 276.0,280.1 277.0,280.1 278.0,280.2 279.0,280.2 280.0,280.3 281.0,280.3 282.0,280.3 283.0,280.4 284.0,280.4 285.0,280.5 286.0,280.5 287.0,280.5 288.0,280.5 289.0,280.6 290.0,280.6 291.0,280.6 292.0,280.6 293.0,280.6 294.0,280.7 295.0,280.7 296.0,280.7 297.0,280.7 298.0,280.7 299.0,280.7 300.0,280.7 301.0,280.7 302.0,280.6 303.0,280.5 304.0,280.4 305.0,280.2 306.0,280.1 307.0,280.0 308.0,279.9 309.0,279.8 310.0,279.7 311.0,279.7 312.0,279.7 313.0,279.7 314.0,279.7 315.0,279.7 316.0,279.7 317.0,279.7 318.0,279.8 319.0,279.8 320.0,279.8 321.0,279.8 322.0,279.9 323.0,279.9 324.0,279.9 325.0,279.9 326.0,280.0 327.0,280.0 328.0,280.1 329.0,280.3 330.0,280.5 331.0,280.8 332.0,281.1 333.0,281.4 334.0,281.8 335.0,282.1 336.0,282.4 337.0,282.6 338.0,282.8 339.0,283.0 340.0,283.0 341.0,283.0 342.0,283.0 343.0,283.0 344.0,283.0 345.0,283.0 346.0,283.0 347.0,283.0 348.0,283.0 349.0,282.9 350.0,282.8 351.0,282.6 352.0,282.5 353.0,282.3 354.0,282.1 355.0,281.9 356.0,281.7 357.0,281.5 358.0,281.3 359.0,281.1 360.0,281.0 361.0,280.9 362.0,280.8 363.0,280.7 364.0,280.6 365.0,280.5 366.0,280.4 367.0,280.3 368.0,280.2 369.0,280.1 370.0,280.0 371.0,279.9 372.0,279.8 373.0,279.7 374.0,279.6 375.0,279.5 376.0,279.4 377.0,279.3 378.0,279.2 379.0,279.1 380.0,279.0 381.0,278.9 382.0,278.7 383.0,278.6 384.0,278.5 385.0,278.3 386.0,278.1 387.0,277.9 388.0,277.7 389.0,277.3 390.0,277.0 391.0,276.6 392.0,276.3 393.0,276.1 394.0,275.9 395.0,275.7 396.0,275.6 397.0,275.4 398.0,275.3 399.0,275.2 400.0,275.1 401.0,275.0 402.0,275.0 403.0,275.1 404.0,275.2 405.0,275.4 406.0,275.7 407.0,276.1 408.0,276.5 409.0,276.9 410.0,277.3 411.0,277.7 412.0,278.0 413.0,278.4 414.0,278.8 415.0,279.2 416.0,279.7 417.0,280.1 418.0,280.6 419.0,281.1 420.0,281.5 421.0,281.9 422.0,282.3 423.0,282.6 424.0,282.8 425.0,282.9 426.0,283.0 427.0,283.0 428.0,283.0 429.0,283.0 430.0,283.0 431.0,283.0 432.0,283.0 433.0,283.0 434.0,283.0 435.0,283.0 436.0,283.0 437.0,283.0 438.0,283.2 439.0,283.4 440.0,283.7 441.0,284.0 442.0,284.4 443.0,284.8 444.0,285.2 445.0,285.6 446.0,286.0 447.0,286.4 448.0,286.9 449.0,287.5 450.0,288.0 451.0,288.6 452.0,289.3 453.0,289.9 454.0,290.6 455.0,291.3 456.0,292.0 457.0,292.7 458.0,293.5 459.0,294.2 460.0,295.0 461.0,295.9 462.0,296.7 463.0,297.5 464.0,298.4 465.0,299.2 466.0,300.0 467.0,300.8 468.0,301.7 469.0,302.6 470.0,303.4 471.0,304.3 472.0,305.1 473.0,306.0 474.0,306.7 475.0,307.4 476.0,308.0 477.0,308.5 478.0,309.0 479.0,309.4 480.0,309.7 481.0,310.1 482.0,310.5 483.0,310.9 484.0,311.3 485.0,311.8 486.0,312.4 487.0,313.2 488.0,314.0 489.0,314.9 490.0,315.8 491.0,316.7 492.0,317.6 493.0,318.5 494.0,319.2 495.0,319.9 496.0,320.5 497.0,321.2 498.0,321.8 499.0,322.5 500.0,323.3 501.0,324.1 502.0,325.0 503.0,326.0 504.0,327.0 505.0,328.0 506.0,329.0 507.0,330.0 508.0,331.1 509.0,332.0 510.0,333.0 511.0,333.9 512.0,334.8 513.0,335.7 514.0,336.6 515.0,337.5 516.0,338.4 517.0,339.3 518.0,340.2 519.0,341.1 520.0,342.0 521.0,342.9 522.0,343.9 523.0,345.0 524.0,346.0 525.0,346.9 526.0,347.8 527.0,348.6 528.0,349.3 529.0,349.9 530.0,350.4 531.0,350.9 532.0,351.4 533.0,351.8 534.0,352.2 535.0,352.5 536.0,352.9 537.0,353.2 538.0,353.5 539.0,353.8 540.0,354.1 541.0,354.4 542.0,354.7 543.0,355.0 544.0,355.3 545.0,355.5 546.0,355.7 547.0,355.8 548.0,355.9 549.0,356.0 550.0,356.0 551.0,356.0 552.0,355.9 553.0,355.9 554.0,355.9 555.0,355.8 556.0,355.7 557.0,355.6 558.0,355.5 559.0,355.4 560.0,355.3 561.0,355.1 562.0,354.7 563.0,354.1 564.0,353.5 565.0,352.9 566.0,352.3 567.0,351.7 568.0,351.3 569.0,350.9 570.0,350.6 571.0,350.3 572.0,350.0 573.0,349.7 574.0,349.5 575.0,349.2 576.0,349.0 577.0,348.7 578.0,348.5 579.0,348.2 580.0,348.0 581.0,347.8 582.0,347.5 583.0,347.3 584.0,347.1 585.0,346.9 586.0,346.6 587.0,346.4 588.0,346.2 589.0,346.0 590.0,345.8 591.0,345.5 592.0,345.3 593.0,345.1 594.0,344.8 595.0,344.6 596.0,344.3 597.0,344.1 598.0,343.8 599.0,343.6 600.0,343.3 601.0,343.0 602.0,342.8 603.0,342.5 604.0,342.2 605.0,341.9 606.0,341.6 607.0,341.4 608.0,341.1 609.0,340.9 610.0,340.6 611.0,340.4 612.0,340.2 613.0,340.0 614.0,339.9 615.0,339.8 616.0,339.7 617.0,339.6 618.0,339.5 619.0,339.5 620.0,339.4 621.0,339.3 622.0,339.3 623.0,339.2 624.0,339.1 625.0,339.0 626.0,338.8 627.0,338.6 628.0,338.3 629.0,337.9 630.0,337.3 631.0,336.6 632.0,335.9 633.0,335.2 634.0,334.5 635.0,333.9 636.0,333.3 637.0,332.8 638.0,332.5 639.0,332.2 640.0,331.9 641.0,331.6 642.0,331.4 643.0,331.1 644.0,330.9 645.0,330.7 646.0,330.5 647.0,330.2 648.0,330.0 649.0,329.8 650.0,329.6 651.0,329.3 652.0,329.1 653.0,328.9 654.0,328.7 655.0,328.5 656.0,328.3 657.0,328.1 658.0,327.8 659.0,327.6 660.0,327.3 661.0,327.0 662.0,326.6 663.0,326.2 664.0,325.8 665.0,325.3 666.0,324.9 667.0,324.4 668.0,323.9 669.0,323.5 670.0,323.0 671.0,322.6 672.0,322.2 673.0,321.7 674.0,321.3 675.0,320.9 676.0,320.5 677.0,320.1 678.0,319.7 679.0,319.2 680.0,318.7 681.0,318.1 682.0,317.5 683.0,316.9" fill="none" stroke="#008000" stroke-width="2.0" stroke-linejoin="round" stroke-linecap="butt"/>
<polyline points="3.0,108.0 4.0,107.6 5.0,107.1 6.0,106.7 7.0,106.3 8.0,105.9 9.0,105.4 10.0,105.0 11.0,104.5 12.0,104.0 13.0,103.5 14.0,103.0 15.0,102.4 16.0,102.0 17.0,101.5 18.0,101.2 19.0,100.9 20.0,100.8 21.0,100.7 22.0,100.7 23.0,100.7 24.0,100.6 25.0,100.6 26.0,100.6 27.0,100.6 28.0,100.6 29.0,100.5 30.0,100.5 31.0,100.5 32.0,100.4 33.0,100.4 34.0,100.4 35.0,100.3 36.0,100.3 37.0,100.2 38.0,100.2 39.0,100.2 40.0,100.1 41.0,100.1 42.0,100.1 43.0,100.0 44.0,100.0 45.0,100.0 46.0,100.0 47.0,100.0 48.0,100.3 49.0,101.2 50.0,102.3 51.0,103.3 52.0,104.0 53.0,104.4 54.0,104.8 55.0,105.0 56.0,105.2 57.0,105.3 58.0,105.4 59.0,105.5 60.0,105.6 61.0,105.7 62.0,105.8 63.0,106.0 64.0,106.3 65.0,106.7 66.0,107.2 67.0,107.8 68.0,108.5 69.0,109.3 70.0,110.4 71.0,111.6 72.0,112.8 73.0,114.0 74.0,115.1 75.0,116.2 76.0,117.4 77.0,118.6 78.0,120.0 79.0,121.6 80.0,123.3 81.0,125.3 82.0,127.5 83.0,130.1 84.0,133.1 85.0,136.0 86.0,138.8 87.0,141.5 88.0,144.0 89.0,146.1 90.0,148.0 91.0,149.9 92.0,152.0 93.0,154.4 94.0,157.0 95.0,159.5 96.0,161.7 97.0,163.9 98.0,166.7 99.0,170.0 100.0,173.0 101.0,175.5 102.0,177.7 103.0,179.8 104.0,182.0 105.0,184.2 106.0,186.3 107.0,188.5 108.0,190.6 109.0,192.8 110.0,195.1 111.0,197.4 112.0,200.1 113.0,202.8 114.0,205.6 115.0,208.0 116.0,210.1 117.0,211.8 118.0,213.5 119.0,215.7 120.0,218.5 121.0,221.7 122.0,225.2 123.0,228.8 124.0,232.3 125.0,235.9 126.0,239.7 127.0,243.5 128.0,247.2 129.0,250.7 130.0,254.1 131.0,257.4 132.0,260.5 133.0,263.5 134.0,266.2 135.0,268.8 136.0,271.3 137.0,273.6 138.0,275.9 139.0,278.1 140.0,280.2 141.0,282.3 142.0,284.4 143.0,286.4 144.0,288.4 145.0,290.3 146.0,292.1 147.0,294.0 148.0,295.8 149.0,297.5 150.0,299.2 151.0,300.7 152.0,302.2 153.0,303.5 154.0,304.9 155.0,306.3 156.0,307.6 157.0,309.1 158.0,310.6 159.0,312.2 160.0,314.0 161.0,316.2 162.0,318.5 163.0,320.5 164.0,322.3 165.0,323.9 166.0,325.5 167.0,327.0 168.0,328.4 169.0,329.8 170.0,331.1 171.0,332.4 172.0,333.7 173.0,335.0 174.0,336.3 175.0,337.5 176.0,338.6 177.0,339.7 178.0,340.7 179.0,341.6 180.0,342.4 181.0,343.2 182.0,343.9 183.0,344.6 184.0,345.3 185.0,345.9 186.0,346.4 187.0,346.8 188.0,347.3 189.0,347.7 190.0,348.1 191.0,348.3 192.0,348.4 193.0,348.4 194.0,348.4 195.0,348.3 196.0,348.3 197.0,348.2 198.0,348.2 199.0,348.1 200.0,348.0 201.0,347.8 202.0,347.3 203.0,346.6 204.0,345.8 205.0,344.9 206.0,343.8 207.0,342.8 208.0,341.7 209.0,340.7 210.0,339.7 211.0,338.8 212.0,337.7 213.0,336.7 214.0,335.6 215.0,334.5 216.0,333.4 217.0,332.3 218.0,331.2 219.0,330.1 220.0,329.0 221.0,328.0 222.0,326.9 223.0,325.9 224.0,324.9 225.0,323.9 226.0,322.8 227.0,321.8 228.0,320.7 229.0,319.5 230.0,318.3 231.0,317.1 232.0,315.8 233.0,314.6 234.0,313.2 235.0,311.9 236.0,310.5 237.0,309.0 238.0,307.5 239.0,305.9 240.0,304.3 241.0,302.5 242.0,300.7 243.0,298.7 244.0,296.5 245.0,294.1 246.0,291.7 247.0,289.2 248.0,286.7 249.0,284.3 250.0,282.0 251.0,279.9 252.0,277.8 253.0,275.7 254.0,273.5 255.0,271.3 256.0,268.8 257.0,266.2 258.0,264.0 259.0,262.2 260.0,260.5 261.0,259.0 262.0,257.6 263.0,256.2 264.0,254.8 265.0,253.5 266.0,252.0 267.0,250.5 268.0,248.9 269.0,247.3 270.0,245.8 271.0,244.2 272.0,242.8 273.0,241.3 274.0,240.0 275.0,238.7 276.0,237.5 277.0,236.4 278.0,235.3 279.0,234.2 280.0,233.1 281.0,232.1 282.0,231.0 283.0,229.9 284.0,228.7 285.0,227.6 286.0,226.6 287.0,225.7 288.0,225.0 289.0,224.6 290.0,224.2 291.0,223.9 292.0,223.5 293.0,222.9 294.0,222.1 295.0,221.1 296.0,220.1 297.0,219.1 298.0,218.0 299.0,216.8 300.0,215.3 301.0,213.9 302.0,212.7 303.0,212.0 304.0,211.7 305.0,211.4 306.0,211.2 307.0,211.0 308.0,211.0 309.0,211.1 310.0,211.5 311.0,212.0 312.0,212.7 313.0,213.3 314.0,214.0 315.0,214.7 316.0,215.5 317.0,216.4 318.0,217.3 319.0,218.2 320.0,219.0 321.0,219.7 322.0,220.3 323.0,220.9 324.0,221.6 325.0,222.2 326.0,223.0 327.0,224.0 328.0,225.4 329.0,227.1 330.0,229.1 331.0,231.0 332.0,232.8 333.0,234.6 334.0,236.4 335.0,238.2 336.0,240.0 337.0,241.8 338.0,243.7 339.0,245.6 340.0,247.5 341.0,249.3 342.0,251.2 343.0,253.0 344.0,254.7 345.0,256.3 346.0,257.9 347.0,259.3 348.0,260.8 349.0,262.4 350.0,264.0 351.0,265.9 352.0,268.1 353.0,270.5 354.0,273.0 355.0,275.3 356.0,277.3 357.0,278.9 358.0,280.4 359.0,281.8 360.0,283.1 361.0,284.3 362.0,285.5 363.0,286.7 364.0,287.9 365.0,289.1 366.0,290.4 367.0,291.7 368.0,293.1 369.0,294.6 370.0,296.0 371.0,297.5 372.0,299.0 373.0,300.4 374.0,301.8 375.0,303.1 376.0,304.3 377.0,305.5 378.0,306.7 379.0,307.8 380.0,309.1 381.0,310.4 382.0,312.0 383.0,313.6 384.0,315.4 385.0,317.0 386.0,318.4 387.0,319.6 388.0,320.7 389.0,321.6 390.0,322.5 391.0,323.3 392.0,324.1 393.0,324.8 394.0,325.5 395.0,326.2 396.0,326.8 397.0,327.4 398.0,327.9 399.0,328.4 400.0,329.0 401.0,329.6 402.0,330.2 403.0,330.9 404.0,331.9 405.0,332.9 406.0,334.0 407.0,335.1 408.0,336.0 409.0,336.8 410.0,337.7 411.0,338.5 412.0,339.3 413.0,340.1 414.0,340.9 415.0,341.5 416.0,342.0 417.0,342.4 418.0,342.7 419.0,342.7 420.0,342.7 421.0,342.7 422.0,342.7 423.0,342.7 424.0,342.7 425.0,342.7 426.0,342.7 427.0,342.7 428.0,342.7 429.0,342.5 430.0,342.0 431.0,341.2 432.0,340.3 433.0,339.3 434.0,338.3 435.0,337.4 436.0,336.7 437.0,336.1 438.0,335.4 439.0,334.7 440.0,334.3 441.0,334.0 442.0,334.1 443.0,334.5 444.0,335.1 445.0,335.8 446.0,336.4 447.0,337.0 448.0,337.3 449.0,337.4 450.0,337.5 451.0,337.6 452.0,337.6 453.0,337.7 454.0,337.8 455.0,337.9 456.0,338.0 457.0,338.3 458.0,338.7 459.0,339.3 460.0,340.0 461.0,340.7 462.0,341.4 463.0,342.1 464.0,342.7 465.0,343.3 466.0,343.9 467.0,344.5 468.0,345.1 469.0,345.7 470.0,346.2 471.0,346.7 472.0,347.0 473.0,347.3 474.0,347.4 475.0,347.5 476.0,347.6 477.0,347.6 478.0,347.7 479.0,347.7 480.0,347.8 481.0,347.8 482.0,347.9 483.0,348.0 484.0,348.2 485.0,348.5 486.0,348.8 487.0,349.2 488.0,349.5 489.0,349.9 490.0,350.3 491.0,350.7 492.0,351.0 493.0,351.2 494.0,351.4 495.0,351.6 496.0,351.7 497.0,351.8 498.0,352.0 499.0,352.2 500.0,352.4 501.0,352.8 502.0,353.5 503.0,354.3 504.0,355.2 505.0,356.0 506.0,356.8 507.0,357.5 508.0,358.3 509.0,359.2 510.0,360.0 511.0,360.9 512.0,361.8 513.0,362.7 514.0,363.6 515.0,364.5 516.0,365.4 517.0,366.3 518.0,367.2 519.0,368.1 520.0,369.0 521.0,370.0 522.0,371.1 523.0,372.3 524.0,373.4 525.0,374.5 526.0,375.5 527.0,376.3 528.0,377.0 529.0,377.7 530.0,378.4 531.0,379.0 532.0,379.6 533.0,380.1 534.0,380.5 535.0,380.9 536.0,381.3 537.0,381.7 538.0,381.9 539.0,382.0 540.0,381.9 541.0,381.6 542.0,381.1 543.0,380.6 544.0,380.0 545.0,379.5 546.0,379.0 547.0,378.6 548.0,378.3 549.0,377.9 550.0,377.6 551.0,377.2 552.0,376.9 553.0,376.5 554.0,376.1 555.0,375.7 556.0,375.2 557.0,374.7 558.0,374.3 559.0,373.8 560.0,373.3 561.0,372.8 562.0,372.3 563.0,371.8 564.0,371.3 565.0,370.8 566.0,370.3 567.0,369.7 568.0,369.0 569.0,368.2 570.0,367.4 571.0,366.4 572.0,365.3 573.0,364.0 574.0,362.7 575.0,361.3 576.0,359.8 577.0,358.4 578.0,357.0 579.0,355.6 580.0,354.3 581.0,353.0 582.0,351.7 583.0,350.4 584.0,349.1 585.0,347.7 586.0,346.3 587.0,344.9 588.0,343.3 589.0,341.7 590.0,340.1 591.0,338.4 592.0,336.7 593.0,335.0 594.0,333.2 595.0,331.5 596.0,329.7 597.0,327.8 598.0,326.0 599.0,324.0 600.0,322.0 601.0,319.7 602.0,317.4 603.0,315.5 604.0,313.9 605.0,312.6 606.0,311.3 607.0,310.0 608.0,308.7 609.0,307.3 610.0,305.9 611.0,304.5 612.0,303.1 613.0,301.7 614.0,300.3 615.0,298.8 616.0,297.5 617.0,296.3 618.0,295.4 619.0,294.7 620.0,294.0 621.0,293.4 622.0,292.9 623.0,292.3 624.0,291.8 625.0,291.3 626.0,290.8 627.0,290.4 628.0,289.9 629.0,289.4 630.0,288.9 631.0,288.3 632.0,287.6 633.0,286.9 634.0,286.2 635.0,285.5 636.0,284.9 637.0,284.3 638.0,283.5 639.0,282.5 640.0,281.1 641.0,279.6 642.0,278.6 643.0,278.3 644.0,278.3 645.0,278.3 646.0,278.3 647.0,278.3 648.0,278.3 649.0,278.3 650.0,278.2 651.0,278.2 652.0,278.1 653.0,278.0 654.0,277.9 655.0,277.8 656.0,277.7 657.0,277.6 658.0,277.4 659.0,277.1 660.0,276.8 661.0,276.5 662.0,276.3 663.0,276.0 664.0,275.7 665.0,275.4 666.0,275.2 667.0,274.9 668.0,274.7 669.0,274.4 670.0,274.2 671.0,273.9 672.0,273.7 673.0,273.5 674.0,273.2 675.0,273.0 676.0,272.8 677.0,272.5 678.0,272.3 679.0,272.1 680.0,271.9" fill="none" stroke="#0000ff" stroke-width="2.0" stroke-linejoin="round" stroke-linecap="butt"/>
<polyline points="3.0,95.3 4.0,94.0 5.0,91.0 6.0,86.8 7.0,83.0 8.0,79.4 9.0,76.1 10.0,73.3 11.0,70.8 12.0,68.6 13.0,67.0 14.0,66.2 15.0,65.5 16.0,65.0 17.0,64.8 18.0,64.8 19.0,65.0 20.0,65.3 21.0,65.6 22.0,66.1 23.0,67.0 24.0,68.3 25.0,69.8 26.0,72.0 27.0,74.5 28.0,77.1 29.0,79.9 30.0,82.7 31.0,85.4 32.0,88.1 33.0,90.6 34.0,92.8 35.0,94.8 36.0,96.7 37.0,98.5 38.0,100.3 39.0,102.1 40.0,103.7 41.0,105.3 42.0,106.7 43.0,108.0 44.0,109.2 45.0,110.4 46.0,111.6 47.0,112.4 48.0,112.9 49.0,113.0 50.0,113.0 51.0,113.0 52.0,113.4 53.0,115.7 54.0,119.1 55.0,122.0 56.0,124.0 57.0,125.8 58.0,127.5 59.0,129.5 60.0,132.0 61.0,135.8 62.0,140.5 63.0,145.0 64.0,148.7 65.0,152.2 66.0,155.6 67.0,159.0 68.0,162.3 69.0,165.9 70.0,170.3 71.0,174.9 72.0,179.3 73.0,183.2 74.0,186.8 75.0,190.4 76.0,194.0 77.0,197.7 78.0,201.5 79.0,205.2 80.0,208.7 81.0,211.7 82.0,215.0 83.0,220.8 84.0,228.1 85.0,234.0 86.0,236.6 87.0,238.4 88.0,239.6 89.0,240.8 90.0,242.0 91.0,243.7 92.0,246.1 93.0,249.5 94.0,253.2 95.0,256.8 96.0,259.8 97.0,262.6 98.0,265.0 99.0,267.4 100.0,269.7 101.0,271.5 102.0,272.7 103.0,273.3 104.0,273.8 105.0,274.1 106.0,274.5 107.0,275.1 108.0,276.2 109.0,278.4 110.0,281.0 111.0,283.5 112.0,285.3 113.0,286.3 114.0,287.0 115.0,287.6 116.0,288.2 117.0,288.9 118.0,289.8 119.0,291.2 120.0,294.1 121.0,298.1 122.0,302.5 123.0,307.9 124.0,314.0 125.0,321.6 126.0,328.7 127.0,333.5 128.0,337.4 129.0,341.1 130.0,344.7 131.0,348.1 132.0,351.4 133.0,354.6 134.0,357.8 135.0,361.0 136.0,364.8 137.0,368.8 138.0,372.1 139.0,373.9 140.0,373.6 141.0,372.1 142.0,369.6 143.0,366.7 144.0,363.6 145.0,360.7 146.0,358.3 147.0,355.6 148.0,352.9 149.0,350.3 150.0,347.8 151.0,345.7 152.0,344.0 153.0,342.6 154.0,341.2 155.0,340.0 156.0,339.2 157.0,338.7 158.0,338.9 159.0,339.9 160.0,341.3 161.0,342.8 162.0,344.5 163.0,346.5 164.0,348.8 165.0,351.3 166.0,353.9 167.0,356.4 168.0,358.7 169.0,361.0 170.0,363.5 171.0,366.1 172.0,368.5 173.0,370.6 174.0,372.3 175.0,373.2 176.0,373.5 177.0,373.7 178.0,373.9 179.0,374.0 180.0,374.0 181.0,373.2 182.0,371.1 183.0,368.2 184.0,365.0 185.0,362.1 186.0,359.7 187.0,357.5 188.0,355.4 189.0,353.0 190.0,350.3 191.0,346.8 192.0,341.4 193.0,337.3 194.0,334.0 195.0,330.9 196.0,327.7 197.0,324.2 198.0,320.4 199.0,316.6 200.0,313.0 201.0,309.7 202.0,306.6 203.0,303.6 204.0,300.7 205.0,297.9 206.0,295.2 207.0,292.1 208.0,288.9 209.0,286.1 210.0,284.1 211.0,283.3 212.0,283.5 213.0,283.8 214.0,284.3 215.0,284.7 216.0,285.0 217.0,285.0 218.0,284.9 219.0,284.8 220.0,284.7 221.0,284.5 222.0,284.3 223.0,284.0 224.0,283.2 225.0,281.7 226.0,279.6 227.0,277.2 228.0,274.7 229.0,272.3 230.0,269.6 231.0,266.5 232.0,263.0 233.0,258.3 234.0,252.8 235.0,247.6 236.0,243.6 237.0,240.1 238.0,236.9 239.0,233.9 240.0,231.0 241.0,228.1 242.0,225.3 243.0,222.6 244.0,220.0 245.0,217.5 246.0,215.0 247.0,212.6 248.0,210.3 249.0,208.0 250.0,205.6 251.0,203.1 252.0,200.7 253.0,198.6 254.0,197.0 255.0,195.8 256.0,194.6 257.0,193.6 258.0,192.8 259.0,192.2 260.0,192.0 261.0,192.5 262.0,193.7 263.0,195.4 264.0,197.3 265.0,199.0 266.0,200.7 267.0,202.7 268.0,204.6 269.0,206.5 270.0,208.0 271.0,209.3 272.0,210.7 273.0,212.0 274.0,213.2 275.0,214.1 276.0,214.8 277.0,215.0 278.0,214.7 279.0,214.0 280.0,213.1 281.0,212.0 282.0,210.2 283.0,207.4 284.0,204.2 285.0,201.1 286.0,198.9 287.0,198.0 288.0,198.8 289.0,200.9 290.0,203.3 291.0,205.5 292.0,207.5 293.0,209.6 294.0,211.3 295.0,212.0 296.0,211.9 297.0,211.5 298.0,211.0 299.0,210.5 300.0,210.0 301.0,209.6 302.0,209.5 303.0,210.2 304.0,211.8 305.0,214.0 306.0,216.0 307.0,218.0 308.0,220.0 309.0,221.9 310.0,223.8 311.0,226.0 312.0,228.8 313.0,232.0 314.0,235.5 315.0,239.0 316.0,242.5 317.0,246.1 318.0,250.0 319.0,254.4 320.0,259.3 321.0,264.0 322.0,268.8 323.0,273.5 324.0,277.3 325.0,280.2 326.0,282.7 327.0,285.0 328.0,287.1 329.0,289.0 330.0,290.8 331.0,292.5 332.0,293.9 333.0,295.1 334.0,296.4 335.0,298.1 336.0,300.4 337.0,303.5 338.0,307.5 339.0,312.4 340.0,319.3 341.0,323.9 342.0,327.7 343.0,331.4 344.0,336.0 345.0,341.1 346.0,346.1 347.0,350.3 348.0,353.4 349.0,356.4 350.0,359.3 351.0,361.9 352.0,364.2 353.0,366.1 354.0,367.4 355.0,368.0 356.0,367.8 357.0,367.1 358.0,365.9 359.0,364.4 360.0,362.7 361.0,360.0 362.0,356.0 363.0,351.4 364.0,346.7 365.0,342.9 366.0,340.1 367.0,337.5 368.0,335.1 369.0,332.9 370.0,331.0 371.0,329.3 372.0,328.0 373.0,326.9 374.0,325.7 375.0,324.7 376.0,323.8 377.0,323.2 378.0,322.8 379.0,322.7 380.0,323.4 381.0,324.5 382.0,325.8 383.0,326.9 384.0,327.3 385.0,327.2 386.0,327.0 387.0,326.7 388.0,326.4 389.0,326.0 390.0,325.6 391.0,325.2 392.0,324.7 393.0,324.0 394.0,323.3 395.0,322.7 396.0,322.3 397.0,322.0 398.0,322.0 399.0,322.1 400.0,322.3 401.0,322.5 402.0,322.8 403.0,323.2 404.0,324.4 405.0,327.8 406.0,332.3 407.0,336.6 408.0,340.7 409.0,342.9 410.0,344.5 411.0,345.9 412.0,347.3 413.0,349.3 414.0,352.7 415.0,356.0 416.0,358.1 417.0,360.0 418.0,361.6 419.0,362.9 420.0,363.9 421.0,364.6 422.0,365.0 423.0,365.3 424.0,365.6 425.0,365.8 426.0,366.0 427.0,365.9 428.0,364.4 429.0,361.5 430.0,357.9 431.0,354.3 432.0,351.3 433.0,348.8 434.0,346.3 435.0,343.8 436.0,341.5 437.0,339.3 438.0,337.3 439.0,335.5 440.0,333.7 441.0,331.9 442.0,330.1 443.0,328.5 444.0,327.1 445.0,326.1 446.0,325.4 447.0,325.3 448.0,325.3 449.0,325.4 450.0,325.5 451.0,325.7 452.0,325.9 453.0,326.2 454.0,326.5 455.0,326.9 456.0,328.9 457.0,332.1 458.0,335.7 459.0,338.9 460.0,342.2 461.0,345.6 462.0,348.5 463.0,350.5 464.0,351.9 465.0,353.0 466.0,353.9 467.0,354.8 468.0,355.8 469.0,357.1 470.0,358.9 471.0,361.7 472.0,364.9 473.0,368.1 474.0,370.7 475.0,372.3 476.0,372.3 477.0,370.7 478.0,368.1 479.0,365.0 480.0,362.0 481.0,358.4 482.0,354.0 483.0,350.3 484.0,348.7 485.0,348.9 486.0,349.3 487.0,350.0 488.0,350.8 489.0,351.8 490.0,352.8 491.0,353.8 492.0,355.1 493.0,356.7 494.0,358.5 495.0,360.4 496.0,362.5 497.0,364.9 498.0,367.8 499.0,370.6 500.0,373.3 501.0,376.0 502.0,378.8 503.0,381.5 504.0,384.1 505.0,386.5 506.0,388.7 507.0,390.5 508.0,392.0 509.0,393.4 510.0,394.5 511.0,395.7 512.0,396.8 513.0,398.1 514.0,399.5 515.0,401.3 516.0,403.5 517.0,406.1 518.0,408.9 519.0,411.6 520.0,414.0 521.0,416.6 522.0,419.1 523.0,420.6 524.0,420.7 525.0,420.7 526.0,420.7 527.0,420.7 528.0,420.5 529.0,419.6 530.0,418.2 531.0,416.5 532.0,414.4 533.0,411.2 534.0,407.2 535.0,403.1 536.0,399.3 537.0,395.9 538.0,392.7 539.0,389.4 540.0,386.2 541.0,383.0 542.0,379.8 543.0,376.6 544.0,373.4 545.0,370.0 546.0,366.2 547.0,362.3 548.0,358.7 549.0,355.5 550.0,352.5 551.0,349.7 552.0,346.9 553.0,344.3 554.0,341.8 555.0,339.3 556.0,336.9 557.0,334.7 558.0,332.5 559.0,330.3 560.0,328.0 561.0,325.6 562.0,323.0 563.0,320.5 564.0,317.9 565.0,315.4 566.0,313.0 567.0,310.7 568.0,308.9 569.0,307.3 570.0,305.8 571.0,304.4 572.0,302.9 573.0,301.3 574.0,299.4 575.0,297.4 576.0,295.2 577.0,293.0 578.0,291.0 579.0,289.1 580.0,287.6 581.0,286.2 582.0,285.0 583.0,283.9 584.0,282.8 585.0,281.7 586.0,280.7 587.0,279.5 588.0,278.3 589.0,277.0 590.0,275.5 591.0,274.0 592.0,272.5 593.0,271.1 594.0,269.8 595.0,268.6 596.0,267.7 597.0,266.9 598.0,266.1 599.0,265.4 600.0,264.9 601.0,264.7 602.0,264.7 603.0,264.7 604.0,264.7 605.0,264.7 606.0,264.7 607.0,264.7 608.0,264.8 609.0,266.0 610.0,268.0 611.0,269.9 612.0,270.9 613.0,271.3 614.0,271.6 615.0,272.0 616.0,272.5 617.0,273.9 618.0,277.0 619.0,280.6 620.0,283.4 621.0,285.6 622.0,287.7 623.0,289.5 624.0,291.2 625.0,293.0 626.0,294.6 627.0,295.7 628.0,296.0 629.0,295.6 630.0,294.8 631.0,293.8 632.0,292.6 633.0,291.5 634.0,290.4 635.0,289.1 636.0,287.6 637.0,286.1 638.0,284.4 639.0,282.5 640.0,280.0 641.0,277.3 642.0,274.8 643.0,273.0 644.0,271.7 645.0,270.5 646.0,269.5 647.0,269.0 648.0,269.6 649.0,272.1 650.0,274.9 651.0,276.7 652.0,278.2 653.0,279.5 654.0,280.5 655.0,281.0 656.0,280.9 657.0,280.6 658.0,280.1 659.0,279.5 660.0,279.0 661.0,278.5 662.0,277.9 663.0,277.3 664.0,276.7 665.0,275.9 666.0,275.2 667.0,274.4 668.0,273.4 669.0,271.4 670.0,265.6 671.0,260.5 672.0,256.5 673.0,253.1 674.0,250.5 675.0,249.0 676.0,247.8 677.0,246.8 678.0,246.0 679.0,245.3 680.0,244.7 681.0,244.3 682.0,244.1 683.0,244.0 684.0,244.0" fill="none" stroke="#ff0000" stroke-width="2.0" stroke-linejoin="round" stroke-linecap="butt"/>
</g>
<g id="objects" shape-rendering="crispEdges">
<line x1="3.5" y1="51" x2="158.7" y2="412.5" stroke="#ff0000" stroke-width="1" stroke-dasharray="2.2 4.33"/>
<line x1="3" y1="34" x2="710" y2="280" stroke="#bdb76b" stroke-width="2.2"/>
<line x1="519.5" y1="434" x2="710" y2="273.5" stroke="#bdb76b" stroke-width="2.2"/>
</g>
<g id="hlines" shape-rendering="crispEdges">
<path d="M3 50.5H710" stroke="#32cd32" stroke-width="1" stroke-dasharray="18 6" fill="none"/>
<path d="M3 190.5H710" stroke="#32cd32" stroke-width="1" stroke-dasharray="18 6" fill="none"/>
<path d="M3 232.5H710" stroke="#32cd32" stroke-width="1" stroke-dasharray="18 6" fill="none"/>
<path d="M3 275.5H710" stroke="#32cd32" stroke-width="1" stroke-dasharray="18 6" fill="none"/>
<path d="M3 329.5H710" stroke="#32cd32" stroke-width="1" stroke-dasharray="18 6" fill="none"/>
<rect x="3" y="179" width="707" height="2" fill="#000080"/>
<rect x="3" y="250" width="707" height="2" fill="#000080"/>
<rect x="3" y="317" width="707" height="2" fill="#000080"/>
<rect x="3" y="413" width="707" height="2" fill="#000080"/>
</g>
<g font-family='"Liberation Sans", "DejaVu Sans", sans-serif' fill="#32cd32">
<text x="686" y="48" font-size="9.8" fill="#32cd32" stroke="#32cd32" stroke-width="0.3" textLength="23" lengthAdjust="spacingAndGlyphs">100.0</text>
<text x="691" y="188" font-size="9.8" fill="#32cd32" stroke="#32cd32" stroke-width="0.3" textLength="18" lengthAdjust="spacingAndGlyphs">61.8</text>
<text x="691" y="230" font-size="9.8" fill="#32cd32" stroke="#32cd32" stroke-width="0.3" textLength="18" lengthAdjust="spacingAndGlyphs">50.0</text>
<text x="691" y="273" font-size="9.8" fill="#32cd32" stroke="#32cd32" stroke-width="0.3" textLength="18" lengthAdjust="spacingAndGlyphs">38.2</text>
<text x="691" y="327" font-size="9.8" fill="#32cd32" stroke="#32cd32" stroke-width="0.3" textLength="18" lengthAdjust="spacingAndGlyphs">23.6</text>
<text x="696" y="412" font-size="9.8" fill="#32cd32" stroke="#32cd32" stroke-width="0.3" textLength="13" lengthAdjust="spacingAndGlyphs">0.0</text>
</g>
<g id="ao" shape-rendering="crispEdges">
<rect x="3" y="501" width="1" height="11" fill="#008000"/>
<rect x="7" y="497" width="1" height="15" fill="#008000"/>
<rect x="11" y="493" width="1" height="19" fill="#008000"/>
<rect x="15" y="491" width="1" height="21" fill="#008000"/>
<rect x="19" y="491" width="1" height="21" fill="#008000"/>
<rect x="23" y="491" width="1" height="21" fill="#ff0000"/>
<rect x="27" y="493" width="1" height="19" fill="#ff0000"/>
<rect x="31" y="499" width="1" height="13" fill="#ff0000"/>
<rect x="35" y="504" width="1" height="8" fill="#ff0000"/>
<rect x="39" y="509" width="1" height="3" fill="#ff0000"/>
<rect x="47" y="511" width="1" height="3" fill="#ff0000"/>
<rect x="51" y="511" width="1" height="4" fill="#ff0000"/>
<rect x="55" y="511" width="1" height="6" fill="#ff0000"/>
<rect x="59" y="511" width="1" height="9" fill="#ff0000"/>
<rect x="63" y="511" width="1" height="14" fill="#ff0000"/>
<rect x="67" y="511" width="1" height="18" fill="#ff0000"/>
<rect x="71" y="511" width="1" height="22" fill="#ff0000"/>
<rect x="75" y="511" width="1" height="26" fill="#ff0000"/>
<rect x="79" y="511" width="1" height="30" fill="#ff0000"/>
<rect x="83" y="511" width="1" height="34" fill="#ff0000"/>
<rect x="87" y="511" width="1" height="39" fill="#ff0000"/>
<rect x="91" y="511" width="1" height="43" fill="#ff0000"/>
<rect x="95" y="511" width="1" height="45" fill="#ff0000"/>
<rect x="99" y="511" width="1" height="49" fill="#ff0000"/>
<rect x="103" y="511" width="1" height="49" fill="#ff0000"/>
<rect x="107" y="511" width="1" height="48" fill="#008000"/>
<rect x="111" y="511" width="1" height="49" fill="#ff0000"/>
<rect x="115" y="511" width="1" height="50" fill="#ff0000"/>
<rect x="119" y="511" width="1" height="49" fill="#008000"/>
<rect x="123" y="511" width="1" height="52" fill="#ff0000"/>
<rect x="127" y="511" width="1" height="57" fill="#ff0000"/>
<rect x="131" y="511" width="1" height="61" fill="#ff0000"/>
<rect x="135" y="511" width="1" height="64" fill="#ff0000"/>
<rect x="139" y="511" width="1" height="65" fill="#ff0000"/>
<rect x="143" y="511" width="1" height="61" fill="#008000"/>
<rect x="147" y="511" width="1" height="54" fill="#008000"/>
<rect x="151" y="511" width="1" height="46" fill="#008000"/>
<rect x="155" y="511" width="1" height="40" fill="#008000"/>
<rect x="159" y="511" width="1" height="35" fill="#008000"/>
<rect x="163" y="511" width="1" height="34" fill="#008000"/>
<rect x="167" y="511" width="1" height="36" fill="#ff0000"/>
<rect x="171" y="511" width="1" height="38" fill="#ff0000"/>
<rect x="175" y="511" width="1" height="39" fill="#ff0000"/>
<rect x="179" y="511" width="1" height="37" fill="#008000"/>
<rect x="183" y="511" width="1" height="33" fill="#008000"/>
<rect x="187" y="511" width="1" height="26" fill="#008000"/>
<rect x="191" y="511" width="1" height="20" fill="#008000"/>
<rect x="195" y="511" width="1" height="11" fill="#008000"/>
<rect x="199" y="511" width="1" height="5" fill="#008000"/>
<rect x="203" y="511" width="1" height="1" fill="#008000"/>
<rect x="207" y="505" width="1" height="7" fill="#008000"/>
<rect x="211" y="500" width="1" height="12" fill="#008000"/>
<rect x="215" y="498" width="1" height="14" fill="#008000"/>
<rect x="219" y="496" width="1" height="16" fill="#008000"/>
<rect x="223" y="497" width="1" height="15" fill="#ff0000"/>
<rect x="227" y="496" width="1" height="16" fill="#008000"/>
<rect x="231" y="493" width="1" height="19" fill="#008000"/>
<rect x="235" y="488" width="1" height="24" fill="#008000"/>
<rect x="239" y="483" width="1" height="29" fill="#008000"/>
<rect x="243" y="478" width="1" height="34" fill="#008000"/>
<rect x="247" y="475" width="1" height="37" fill="#008000"/>
<rect x="251" y="472" width="1" height="40" fill="#008000"/>
<rect x="255" y="470" width="1" height="42" fill="#008000"/>
<rect x="259" y="470" width="1" height="42" fill="#008000"/>
<rect x="263" y="471" width="1" height="41" fill="#ff0000"/>
<rect x="267" y="475" width="1" height="37" fill="#ff0000"/>
<rect x="271" y="480" width="1" height="32" fill="#ff0000"/>
<rect x="275" y="485" width="1" height="27" fill="#ff0000"/>
<rect x="279" y="486" width="1" height="26" fill="#ff0000"/>
<rect x="283" y="487" width="1" height="25" fill="#ff0000"/>
<rect x="287" y="486" width="1" height="26" fill="#008000"/>
<rect x="291" y="486" width="1" height="26" fill="#ff0000"/>
<rect x="295" y="489" width="1" height="23" fill="#ff0000"/>
<rect x="299" y="493" width="1" height="19" fill="#ff0000"/>
<rect x="303" y="494" width="1" height="18" fill="#ff0000"/>
<rect x="307" y="498" width="1" height="14" fill="#ff0000"/>
<rect x="311" y="503" width="1" height="9" fill="#ff0000"/>
<rect x="315" y="508" width="1" height="4" fill="#ff0000"/>
<rect x="319" y="511" width="1" height="2" fill="#ff0000"/>
<rect x="323" y="511" width="1" height="9" fill="#ff0000"/>
<rect x="327" y="511" width="1" height="15" fill="#ff0000"/>
<rect x="331" y="511" width="1" height="19" fill="#ff0000"/>
<rect x="335" y="511" width="1" height="22" fill="#ff0000"/>
<rect x="339" y="511" width="1" height="25" fill="#ff0000"/>
<rect x="343" y="511" width="1" height="31" fill="#ff0000"/>
<rect x="347" y="511" width="1" height="37" fill="#ff0000"/>
<rect x="351" y="511" width="1" height="42" fill="#ff0000"/>
<rect x="355" y="511" width="1" height="44" fill="#ff0000"/>
<rect x="359" y="511" width="1" height="43" fill="#008000"/>
<rect x="363" y="511" width="1" height="39" fill="#008000"/>
<rect x="367" y="511" width="1" height="33" fill="#008000"/>
<rect x="371" y="511" width="1" height="28" fill="#008000"/>
<rect x="375" y="511" width="1" height="25" fill="#008000"/>
<rect x="379" y="511" width="1" height="22" fill="#008000"/>
<rect x="383" y="511" width="1" height="21" fill="#008000"/>
<rect x="387" y="511" width="1" height="20" fill="#008000"/>
<rect x="391" y="511" width="1" height="18" fill="#008000"/>
<rect x="395" y="511" width="1" height="15" fill="#008000"/>
<rect x="399" y="511" width="1" height="14" fill="#008000"/>
<rect x="403" y="511" width="1" height="13" fill="#008000"/>
<rect x="407" y="511" width="1" height="14" fill="#ff0000"/>
<rect x="411" y="511" width="1" height="18" fill="#ff0000"/>
<rect x="415" y="511" width="1" height="20" fill="#ff0000"/>
<rect x="419" y="511" width="1" height="21" fill="#ff0000"/>
<rect x="423" y="511" width="1" height="21" fill="#008000"/>
<rect x="427" y="511" width="1" height="20" fill="#008000"/>
<rect x="431" y="511" width="1" height="16" fill="#008000"/>
<rect x="435" y="511" width="1" height="9" fill="#008000"/>
<rect x="439" y="511" width="1" height="4" fill="#008000"/>
<rect x="447" y="509" width="1" height="3" fill="#008000"/>
<rect x="451" y="508" width="1" height="4" fill="#008000"/>
<rect x="455" y="509" width="1" height="3" fill="#ff0000"/>
<rect x="459" y="511" width="1" height="1" fill="#ff0000"/>
<rect x="463" y="511" width="1" height="3" fill="#ff0000"/>
<rect x="467" y="511" width="1" height="5" fill="#ff0000"/>
<rect x="471" y="511" width="1" height="7" fill="#ff0000"/>
<rect x="475" y="511" width="1" height="10" fill="#ff0000"/>
<rect x="479" y="511" width="1" height="10" fill="#008000"/>
<rect x="483" y="511" width="1" height="6" fill="#008000"/>
<rect x="487" y="511" width="1" height="5" fill="#008000"/>
<rect x="491" y="511" width="1" height="6" fill="#ff0000"/>
<rect x="495" y="511" width="1" height="7" fill="#ff0000"/>
<rect x="499" y="511" width="1" height="10" fill="#ff0000"/>
<rect x="503" y="511" width="1" height="13" fill="#ff0000"/>
<rect x="507" y="511" width="1" height="16" fill="#ff0000"/>
<rect x="511" y="511" width="1" height="18" fill="#ff0000"/>
<rect x="515" y="511" width="1" height="19" fill="#ff0000"/>
<rect x="519" y="511" width="1" height="21" fill="#ff0000"/>
<rect x="523" y="511" width="1" height="24" fill="#ff0000"/>
<rect x="527" y="511" width="1" height="23" fill="#008000"/>
<rect x="531" y="511" width="1" height="21" fill="#008000"/>
<rect x="535" y="511" width="1" height="17" fill="#008000"/>
<rect x="539" y="511" width="1" height="12" fill="#008000"/>
<rect x="543" y="511" width="1" height="6" fill="#008000"/>
<rect x="547" y="511" width="1" height="1" fill="#008000"/>
<rect x="551" y="509" width="1" height="3" fill="#008000"/>
<rect x="555" y="506" width="1" height="6" fill="#008000"/>
<rect x="559" y="502" width="1" height="10" fill="#008000"/>
<rect x="563" y="499" width="1" height="13" fill="#008000"/>
<rect x="567" y="496" width="1" height="16" fill="#008000"/>
<rect x="571" y="493" width="1" height="19" fill="#008000"/>
<rect x="575" y="490" width="1" height="22" fill="#008000"/>
<rect x="579" y="488" width="1" height="24" fill="#008000"/>
<rect x="583" y="486" width="1" height="26" fill="#008000"/>
<rect x="587" y="484" width="1" height="28" fill="#008000"/>
<rect x="591" y="482" width="1" height="30" fill="#008000"/>
<rect x="595" y="482" width="1" height="30" fill="#008000"/>
<rect x="599" y="482" width="1" height="30" fill="#ff0000"/>
<rect x="603" y="483" width="1" height="29" fill="#ff0000"/>
<rect x="607" y="483" width="1" height="29" fill="#ff0000"/>
<rect x="611" y="484" width="1" height="28" fill="#ff0000"/>
<rect x="615" y="485" width="1" height="27" fill="#ff0000"/>
<rect x="619" y="487" width="1" height="25" fill="#ff0000"/>
<rect x="623" y="492" width="1" height="20" fill="#ff0000"/>
<rect x="627" y="496" width="1" height="16" fill="#ff0000"/>
<rect x="631" y="498" width="1" height="14" fill="#ff0000"/>
<rect x="635" y="498" width="1" height="14" fill="#ff0000"/>
<rect x="639" y="498" width="1" height="14" fill="#008000"/>
<rect x="643" y="496" width="1" height="16" fill="#008000"/>
<rect x="647" y="495" width="1" height="17" fill="#008000"/>
<rect x="651" y="497" width="1" height="15" fill="#ff0000"/>
<rect x="655" y="501" width="1" height="11" fill="#ff0000"/>
<rect x="659" y="504" width="1" height="8" fill="#ff0000"/>
<rect x="663" y="505" width="1" height="7" fill="#ff0000"/>
<rect x="667" y="506" width="1" height="6" fill="#ff0000"/>
<rect x="671" y="504" width="1" height="8" fill="#008000"/>
<rect x="675" y="500" width="1" height="12" fill="#008000"/>
<rect x="679" y="498" width="1" height="14" fill="#008000"/>
<rect x="683" y="499" width="1" height="13" fill="#ff0000"/>
</g>
<g id="frame" shape-rendering="crispEdges">
<rect x="2" y="2" width="709" height="1" fill="#000"/>
<rect x="2" y="2" width="1" height="459" fill="#000"/>
<rect x="2" y="460" width="709" height="1" fill="#000"/>
<rect x="2" y="462" width="709" height="1" fill="#000"/>
<rect x="2" y="462" width="1" height="121" fill="#000"/>
<rect x="2" y="582" width="710" height="1" fill="#000"/>
<rect x="710" y="2" width="1" height="581" fill="#000"/>
<rect x="711" y="8" width="2" height="1" fill="#000"/>
<rect x="711" y="40" width="2" height="1" fill="#000"/>
<rect x="711" y="73" width="2" height="1" fill="#000"/>
<rect x="711" y="105" width="2" height="1" fill="#000"/>
<rect x="711" y="137" width="2" height="1" fill="#000"/>
<rect x="711" y="169" width="2" height="1" fill="#000"/>
<rect x="711" y="201" width="2" height="1" fill="#000"/>
<rect x="711" y="266" width="2" height="1" fill="#000"/>
<rect x="711" y="298" width="2" height="1" fill="#000"/>
<rect x="711" y="330" width="2" height="1" fill="#000"/>
<rect x="711" y="362" width="2" height="1" fill="#000"/>
<rect x="711" y="394" width="2" height="1" fill="#000"/>
<rect x="711" y="426" width="2" height="1" fill="#000"/>
<rect x="711" y="458" width="2" height="1" fill="#000"/>
<rect x="711" y="464" width="1" height="1" fill="#000"/>
<rect x="711" y="511" width="1" height="1" fill="#000"/>
<rect x="711" y="581" width="1" height="1" fill="#000"/>
<rect x="3" y="583" width="1" height="3" fill="#000"/>
<rect x="67" y="583" width="1" height="3" fill="#000"/>
<rect x="131" y="583" width="1" height="3" fill="#000"/>
<rect x="195" y="583" width="1" height="3" fill="#000"/>
<rect x="259" y="583" width="1" height="3" fill="#000"/>
<rect x="323" y="583" width="1" height="3" fill="#000"/>
<rect x="387" y="583" width="1" height="3" fill="#000"/>
<rect x="451" y="583" width="1" height="3" fill="#000"/>
<rect x="515" y="583" width="1" height="3" fill="#000"/>
<rect x="579" y="583" width="1" height="3" fill="#000"/>
<rect x="643" y="583" width="1" height="3" fill="#000"/>
</g>
<g id="labels" font-family='"Liberation Sans", "DejaVu Sans", sans-serif'>
<text x="716.2" y="11" font-size="9.8" fill="#000" stroke="#000" stroke-width="0.3" textLength="28" lengthAdjust="spacingAndGlyphs">1.6675</text>
<text x="716.2" y="43" font-size="9.8" fill="#000" stroke="#000" stroke-width="0.3" textLength="28" lengthAdjust="spacingAndGlyphs">1.6570</text>
<text x="716.2" y="76" font-size="9.8" fill="#000" stroke="#000" stroke-width="0.3" textLength="28" lengthAdjust="spacingAndGlyphs">1.6460</text>
<text x="716.2" y="108" font-size="9.8" fill="#000" stroke="#000" stroke-width="0.3" textLength="28" lengthAdjust="spacingAndGlyphs">1.6355</text>
<text x="716.2" y="140" font-size="9.8" fill="#000" stroke="#000" stroke-width="0.3" textLength="28" lengthAdjust="spacingAndGlyphs">1.6250</text>
<text x="716.2" y="172" font-size="9.8" fill="#000" stroke="#000" stroke-width="0.3" textLength="28" lengthAdjust="spacingAndGlyphs">1.6145</text>
<text x="716.2" y="204" font-size="9.8" fill="#000" stroke="#000" stroke-width="0.3" textLength="28" lengthAdjust="spacingAndGlyphs">1.6040</text>
<text x="716.2" y="269" font-size="9.8" fill="#000" stroke="#000" stroke-width="0.3" textLength="28" lengthAdjust="spacingAndGlyphs">1.5825</text>
<text x="716.2" y="301" font-size="9.8" fill="#000" stroke="#000" stroke-width="0.3" textLength="28" lengthAdjust="spacingAndGlyphs">1.5720</text>
<text x="716.2" y="333" font-size="9.8" fill="#000" stroke="#000" stroke-width="0.3" textLength="28" lengthAdjust="spacingAndGlyphs">1.5615</text>
<text x="716.2" y="365" font-size="9.8" fill="#000" stroke="#000" stroke-width="0.3" textLength="28" lengthAdjust="spacingAndGlyphs">1.5510</text>
<text x="716.2" y="397" font-size="9.8" fill="#000" stroke="#000" stroke-width="0.3" textLength="28" lengthAdjust="spacingAndGlyphs">1.5405</text>
<text x="716.2" y="429" font-size="9.8" fill="#000" stroke="#000" stroke-width="0.3" textLength="28" lengthAdjust="spacingAndGlyphs">1.5300</text>
<text x="716.2" y="461" font-size="9.8" fill="#000" stroke="#000" stroke-width="0.3" textLength="28" lengthAdjust="spacingAndGlyphs">1.5195</text>
<rect x="712" y="174" width="36" height="11" fill="#000080" shape-rendering="crispEdges"/>
<text x="716.2" y="183" font-size="9.8" fill="#fff" stroke="#fff" stroke-width="0.3" textLength="28" lengthAdjust="spacingAndGlyphs">1.6110</text>
<rect x="712" y="230" width="36" height="11" fill="#000" shape-rendering="crispEdges"/>
<text x="716.2" y="239" font-size="9.8" fill="#fff" stroke="#fff" stroke-width="0.3" textLength="28" lengthAdjust="spacingAndGlyphs">1.5928</text>
<rect x="712" y="245" width="36" height="11" fill="#000080" shape-rendering="crispEdges"/>
<text x="716.2" y="254" font-size="9.8" fill="#fff" stroke="#fff" stroke-width="0.3" textLength="28" lengthAdjust="spacingAndGlyphs">1.5877</text>
<rect x="712" y="312" width="36" height="11" fill="#000080" shape-rendering="crispEdges"/>
<text x="716.2" y="321" font-size="9.8" fill="#fff" stroke="#fff" stroke-width="0.3" textLength="28" lengthAdjust="spacingAndGlyphs">1.5655</text>
<rect x="712" y="408" width="36" height="11" fill="#000080" shape-rendering="crispEdges"/>
<text x="716.2" y="417" font-size="9.8" fill="#fff" stroke="#fff" stroke-width="0.3" textLength="28" lengthAdjust="spacingAndGlyphs">1.5341</text>
<text x="714" y="473" font-size="9.8" fill="#000" stroke="#000" stroke-width="0.3" textLength="33" lengthAdjust="spacingAndGlyphs">0.04011</text>
<text x="714" y="514" font-size="9.8" fill="#000" stroke="#000" stroke-width="0.3" textLength="18" lengthAdjust="spacingAndGlyphs">0.00</text>
<text x="713.5" y="579" font-size="9.8" fill="#000" stroke="#000" stroke-width="0.3" textLength="37.5" lengthAdjust="spacingAndGlyphs">-0.05867</text>
<text y="14" font-size="9.8" fill="#000" stroke="#000" stroke-width="0.3" xml:space="preserve"><tspan x="6.5" textLength="64" lengthAdjust="spacingAndGlyphs">GBPUSD,Daily</tspan><tspan x="70.5" textLength="6" lengthAdjust="spacingAndGlyphs">  </tspan><tspan x="76.3" textLength="28" lengthAdjust="spacingAndGlyphs">1.5952</tspan><tspan x="104.4" textLength="3" lengthAdjust="spacingAndGlyphs"> </tspan><tspan x="107.4" textLength="28" lengthAdjust="spacingAndGlyphs">1.5963</tspan><tspan x="135.5" textLength="3" lengthAdjust="spacingAndGlyphs"> </tspan><tspan x="138.6" textLength="28" lengthAdjust="spacingAndGlyphs">1.5903</tspan><tspan x="166.7" textLength="3" lengthAdjust="spacingAndGlyphs"> </tspan><tspan x="169.6" textLength="28" lengthAdjust="spacingAndGlyphs">1.5928</tspan></text>
<text y="476" font-size="9.8" fill="#000" stroke="#000" stroke-width="0.3" xml:space="preserve"><tspan x="7.5" textLength="14" lengthAdjust="spacingAndGlyphs">AO</tspan><tspan x="21.5" textLength="3" lengthAdjust="spacingAndGlyphs"> </tspan><tspan x="24.5" textLength="33" lengthAdjust="spacingAndGlyphs">0.01158</tspan></text>
<text y="578" font-size="9.8" fill="#000" stroke="#000" stroke-width="0.3" xml:space="preserve"><tspan x="6.5" textLength="51" lengthAdjust="spacingAndGlyphs">MetaTrader</tspan><tspan x="57.5" textLength="3" lengthAdjust="spacingAndGlyphs"> </tspan><tspan x="60.5" textLength="19" lengthAdjust="spacingAndGlyphs">FIX,</tspan><tspan x="79" textLength="3" lengthAdjust="spacingAndGlyphs"> </tspan><tspan x="81.7" textLength="9.5" lengthAdjust="spacingAndGlyphs">©</tspan><tspan x="91.2" textLength="3" lengthAdjust="spacingAndGlyphs"> </tspan><tspan x="94.5" textLength="44" lengthAdjust="spacingAndGlyphs">2001-2011</tspan><tspan x="138.5" textLength="3" lengthAdjust="spacingAndGlyphs"> </tspan><tspan x="141.5" textLength="53" lengthAdjust="spacingAndGlyphs">MetaQuotes</tspan><tspan x="194.5" textLength="3" lengthAdjust="spacingAndGlyphs"> </tspan><tspan x="197.3" textLength="40" lengthAdjust="spacingAndGlyphs">Software</tspan><tspan x="237.3" textLength="3" lengthAdjust="spacingAndGlyphs"> </tspan><tspan x="240" textLength="24" lengthAdjust="spacingAndGlyphs">Corp.</tspan></text>
<text x="2.2" y="595" font-size="9.8" fill="#000" stroke="#000" stroke-width="0.3" textLength="52.5" lengthAdjust="spacingAndGlyphs">17 Aug 2011</text>
<text x="66.2" y="595" font-size="9.8" fill="#000" stroke="#000" stroke-width="0.3" textLength="47.5" lengthAdjust="spacingAndGlyphs">5 Sep 2011</text>
<text x="130.2" y="595" font-size="9.8" fill="#000" stroke="#000" stroke-width="0.3" textLength="52" lengthAdjust="spacingAndGlyphs">23 Sep 2011</text>
<text x="194.2" y="595" font-size="9.8" fill="#000" stroke="#000" stroke-width="0.3" textLength="51" lengthAdjust="spacingAndGlyphs">12 Oct 2011</text>
<text x="258.2" y="595" font-size="9.8" fill="#000" stroke="#000" stroke-width="0.3" textLength="51" lengthAdjust="spacingAndGlyphs">31 Oct 2011</text>
<text x="322.2" y="595" font-size="9.8" fill="#000" stroke="#000" stroke-width="0.3" textLength="53.5" lengthAdjust="spacingAndGlyphs">18 Nov 2011</text>
<text x="386.2" y="595" font-size="9.8" fill="#000" stroke="#000" stroke-width="0.3" textLength="47.5" lengthAdjust="spacingAndGlyphs">7 Dec 2011</text>
<text x="450.2" y="595" font-size="9.8" fill="#000" stroke="#000" stroke-width="0.3" textLength="53" lengthAdjust="spacingAndGlyphs">26 Dec 2011</text>
<text x="514.2" y="595" font-size="9.8" fill="#000" stroke="#000" stroke-width="0.3" textLength="49.5" lengthAdjust="spacingAndGlyphs">13 Jan 2012</text>
<text x="578.2" y="595" font-size="9.8" fill="#000" stroke="#000" stroke-width="0.3" textLength="47.5" lengthAdjust="spacingAndGlyphs">1 Feb 2012</text>
<text x="642.2" y="595" font-size="9.8" fill="#000" stroke="#000" stroke-width="0.3" textLength="51.5" lengthAdjust="spacingAndGlyphs">20 Feb 2012</text>
</g>
</svg>
<svg class="wm" width="750" height="600" viewBox="0 0 750 600"><text y="315.8" font-family='"DejaVu Sans", "Liberation Sans", sans-serif' font-size="16.5" fill="#756565" stroke="#756565" stroke-width="0.2" xml:space="preserve"><tspan x="433.4" textLength="60.5" lengthAdjust="spacingAndGlyphs">Портал</tspan><tspan x="494.8" textLength="5" lengthAdjust="spacingAndGlyphs"> </tspan><tspan x="500.8" textLength="28.5" lengthAdjust="spacingAndGlyphs">для</tspan><tspan x="529.3" textLength="5" lengthAdjust="spacingAndGlyphs"> </tspan><tspan x="535.0" textLength="87.5" lengthAdjust="spacingAndGlyphs">трейдеров</tspan><tspan x="622.5" textLength="5" lengthAdjust="spacingAndGlyphs"> </tspan><tspan x="630.0" textLength="6" lengthAdjust="spacingAndGlyphs">-</tspan><tspan x="636" textLength="5" lengthAdjust="spacingAndGlyphs"> </tspan><tspan x="642.5" textLength="101.5" lengthAdjust="spacingAndGlyphs">ForTrader.ru</tspan></text></svg>
</body>
</html>
